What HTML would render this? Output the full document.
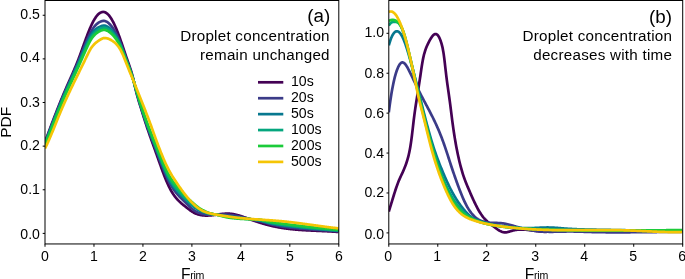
<!DOCTYPE html>
<html lang="en"><head><meta charset="utf-8"><title>PDF of F_rim</title>
<style>html,body{margin:0;padding:0;background:#fff}svg{display:block;will-change:transform}</style></head>
<body>
<svg width="685" height="279" viewBox="0 0 685 279" font-family="'Liberation Sans', sans-serif" fill="#000">
<rect width="685" height="279" fill="#fff"/>
<defs><clipPath id="ca"><rect x="45.0" y="0" width="293.8" height="243.95"/></clipPath><clipPath id="cb"><rect x="388.8" y="0" width="293.90000000000003" height="243.95"/></clipPath></defs>
<g clip-path="url(#ca)" fill="none" stroke-width="2.7" stroke-linejoin="round" stroke-linecap="butt">
<path stroke="#440154" d="M45,142.09 L45.5,140.74 L46,139.39 L46.5,138.04 L47,136.69 L47.5,135.35 L48,134.00 L48.5,132.66 L49,131.32 L49.5,129.99 L50,128.65 L50.5,127.32 L51,125.99 L51.5,124.67 L52,123.35 L52.5,122.03 L53,120.71 L53.5,119.40 L54,118.10 L54.5,116.79 L55,115.50 L55.5,114.20 L56,112.91 L56.5,111.63 L57,110.35 L57.5,109.08 L58,107.81 L58.5,106.55 L59,105.29 L59.5,104.04 L60,102.80 L60.5,101.56 L61,100.33 L61.5,99.11 L62,97.89 L62.5,96.68 L63,95.48 L63.5,94.29 L64,93.10 L64.5,91.92 L65,90.75 L65.5,89.59 L66,88.44 L66.5,87.29 L67,86.15 L67.5,85.02 L68,83.89 L68.5,82.76 L69,81.63 L69.5,80.51 L70,79.38 L70.5,78.26 L71,77.13 L71.5,76.00 L72,74.86 L72.5,73.71 L73,72.56 L73.5,71.40 L74,70.24 L74.5,69.06 L75,67.87 L75.5,66.66 L76,65.45 L76.5,64.21 L77,62.97 L77.5,61.70 L78,60.42 L78.5,59.12 L79,57.80 L79.5,56.46 L80,55.11 L80.5,53.75 L81,52.37 L81.5,50.99 L82,49.61 L82.5,48.22 L83,46.83 L83.5,45.44 L84,44.05 L84.5,42.67 L85,41.30 L85.5,39.93 L86,38.57 L86.5,37.23 L87,35.90 L87.5,34.59 L88,33.30 L88.5,32.03 L89,30.79 L89.5,29.56 L90,28.37 L90.5,27.21 L91,26.07 L91.5,24.98 L92,23.91 L92.5,22.89 L93,21.90 L93.5,20.96 L94,20.06 L94.5,19.20 L95,18.40 L95.5,17.64 L96,16.92 L96.5,16.25 L97,15.63 L97.5,15.06 L98,14.54 L98.5,14.06 L99,13.63 L99.5,13.25 L100,12.92 L100.5,12.63 L101,12.40 L101.5,12.21 L102,12.08 L102.5,11.99 L103,11.95 L103.5,11.97 L104,12.03 L104.5,12.14 L105,12.31 L105.5,12.52 L106,12.79 L106.5,13.11 L107,13.48 L107.5,13.90 L108,14.37 L108.5,14.90 L109,15.47 L109.5,16.09 L110,16.76 L110.5,17.48 L111,18.24 L111.5,19.05 L112,19.90 L112.5,20.79 L113,21.72 L113.5,22.70 L114,23.71 L114.5,24.76 L115,25.84 L115.5,26.96 L116,28.12 L116.5,29.31 L117,30.53 L117.5,31.78 L118,33.07 L118.5,34.38 L119,35.72 L119.5,37.08 L120,38.48 L120.5,39.89 L121,41.33 L121.5,42.79 L122,44.27 L122.5,45.75 L123,47.25 L123.5,48.75 L124,50.25 L124.5,51.74 L125,53.23 L125.5,54.71 L126,56.17 L126.5,57.61 L127,59.03 L127.5,60.44 L128,61.84 L128.5,63.25 L129,64.67 L129.5,66.12 L130,67.61 L130.5,69.15 L131,70.75 L131.5,72.42 L132,74.17 L132.5,76.01 L133,77.95 L133.5,80.01 L134,82.18 L134.5,84.43 L135,86.68 L135.5,88.88 L136,90.97 L136.5,92.96 L137,94.86 L137.5,96.68 L138,98.44 L138.5,100.14 L139,101.80 L139.5,103.42 L140,105.03 L140.5,106.62 L141,108.21 L141.5,109.80 L142,111.41 L142.5,113.02 L143,114.63 L143.5,116.24 L144,117.85 L144.5,119.44 L145,121.03 L145.5,122.61 L146,124.16 L146.5,125.70 L147,127.21 L147.5,128.71 L148,130.19 L148.5,131.66 L149,133.11 L149.5,134.54 L150,135.97 L150.5,137.38 L151,138.79 L151.5,140.19 L152,141.58 L152.5,142.97 L153,144.36 L153.5,145.74 L154,147.13 L154.5,148.51 L155,149.90 L155.5,151.30 L156,152.69 L156.5,154.10 L157,155.51 L157.5,156.93 L158,158.34 L158.5,159.76 L159,161.18 L159.5,162.59 L160,164.00 L160.5,165.40 L161,166.80 L161.5,168.18 L162,169.56 L162.5,170.92 L163,172.26 L163.5,173.60 L164,174.91 L164.5,176.20 L165,177.47 L165.5,178.72 L166,179.95 L166.5,181.15 L167,182.32 L167.5,183.46 L168,184.57 L168.5,185.65 L169,186.69 L169.5,187.70 L170,188.67 L170.5,189.60 L171,190.50 L171.5,191.37 L172,192.20 L172.5,193.00 L173,193.78 L173.5,194.52 L174,195.24 L174.5,195.93 L175,196.59 L175.5,197.23 L176,197.85 L176.5,198.44 L177,199.02 L177.5,199.57 L178,200.11 L178.5,200.63 L179,201.13 L179.5,201.62 L180,202.09 L180.5,202.55 L181,203.00 L181.5,203.43 L182,203.86 L182.5,204.28 L183,204.69 L183.5,205.10 L184,205.50 L184.5,205.90 L185,206.29 L185.5,206.69 L186,207.08 L186.5,207.47 L187,207.87 L187.5,208.26 L188,208.65 L188.5,209.04 L189,209.42 L189.5,209.80 L190,210.17 L190.5,210.53 L191,210.88 L191.5,211.22 L192,211.55 L192.5,211.87 L193,212.16 L193.5,212.45 L194,212.72 L194.5,212.97 L195,213.21 L195.5,213.44 L196,213.65 L196.5,213.85 L197,214.04 L197.5,214.21 L198,214.38 L198.5,214.53 L199,214.67 L199.5,214.79 L200,214.91 L200.5,215.02 L201,215.11 L201.5,215.20 L202,215.27 L202.5,215.34 L203,215.40 L203.5,215.45 L204,215.49 L204.5,215.52 L205,215.54 L205.5,215.56 L206,215.57 L206.5,215.57 L207,215.57 L207.5,215.56 L208,215.54 L208.5,215.52 L209,215.49 L209.5,215.46 L210,215.43 L210.5,215.38 L211,215.34 L211.5,215.29 L212,215.24 L212.5,215.18 L213,215.13 L213.5,215.06 L214,215.00 L214.5,214.94 L215,214.87 L215.5,214.80 L216,214.74 L216.5,214.67 L217,214.60 L217.5,214.53 L218,214.46 L218.5,214.39 L219,214.32 L219.5,214.26 L220,214.19 L220.5,214.13 L221,214.07 L221.5,214.01 L222,213.96 L222.5,213.91 L223,213.86 L223.5,213.81 L224,213.77 L224.5,213.74 L225,213.71 L225.5,213.68 L226,213.66 L226.5,213.64 L227,213.64 L227.5,213.63 L228,213.64 L228.5,213.65 L229,213.67 L229.5,213.69 L230,213.72 L230.5,213.77 L231,213.82 L231.5,213.87 L232,213.94 L232.5,214.01 L233,214.09 L233.5,214.18 L234,214.27 L234.5,214.37 L235,214.47 L235.5,214.59 L236,214.70 L236.5,214.83 L237,214.95 L237.5,215.09 L238,215.22 L238.5,215.37 L239,215.51 L239.5,215.66 L240,215.82 L240.5,215.97 L241,216.13 L241.5,216.30 L242,216.47 L242.5,216.63 L243,216.81 L243.5,216.98 L244,217.16 L244.5,217.33 L245,217.51 L245.5,217.69 L246,217.87 L246.5,218.05 L247,218.23 L247.5,218.42 L248,218.60 L248.5,218.78 L249,218.96 L249.5,219.14 L250,219.32 L250.5,219.50 L251,219.68 L251.5,219.85 L252,220.03 L252.5,220.21 L253,220.38 L253.5,220.55 L254,220.73 L254.5,220.90 L255,221.07 L255.5,221.24 L256,221.41 L256.5,221.57 L257,221.74 L257.5,221.90 L258,222.07 L258.5,222.23 L259,222.39 L259.5,222.55 L260,222.71 L260.5,222.86 L261,223.02 L261.5,223.17 L262,223.32 L262.5,223.47 L263,223.62 L263.5,223.77 L264,223.92 L264.5,224.06 L265,224.20 L265.5,224.34 L266,224.48 L266.5,224.62 L267,224.75 L267.5,224.89 L268,225.02 L268.5,225.15 L269,225.28 L269.5,225.40 L270,225.53 L270.5,225.65 L271,225.77 L271.5,225.89 L272,226.00 L272.5,226.11 L273,226.23 L273.5,226.34 L274,226.44 L274.5,226.55 L275,226.65 L275.5,226.75 L276,226.85 L276.5,226.95 L277,227.05 L277.5,227.14 L278,227.24 L278.5,227.33 L279,227.42 L279.5,227.50 L280,227.59 L280.5,227.68 L281,227.76 L281.5,227.84 L282,227.92 L282.5,228.00 L283,228.07 L283.5,228.15 L284,228.22 L284.5,228.29 L285,228.36 L285.5,228.43 L286,228.50 L286.5,228.57 L287,228.63 L287.5,228.69 L288,228.76 L288.5,228.82 L289,228.88 L289.5,228.93 L290,228.99 L290.5,229.05 L291,229.10 L291.5,229.15 L292,229.21 L292.5,229.26 L293,229.31 L293.5,229.36 L294,229.40 L294.5,229.45 L295,229.50 L295.5,229.54 L296,229.58 L296.5,229.63 L297,229.67 L297.5,229.71 L298,229.75 L298.5,229.79 L299,229.83 L299.5,229.86 L300,229.90 L300.5,229.94 L301,229.97 L301.5,230.01 L302,230.04 L302.5,230.07 L303,230.10 L303.5,230.13 L304,230.17 L304.5,230.20 L305,230.23 L305.5,230.25 L306,230.28 L306.5,230.31 L307,230.34 L307.5,230.36 L308,230.39 L308.5,230.42 L309,230.44 L309.5,230.47 L310,230.49 L310.5,230.52 L311,230.54 L311.5,230.56 L312,230.59 L312.5,230.61 L313,230.63 L313.5,230.66 L314,230.68 L314.5,230.70 L315,230.72 L315.5,230.75 L316,230.77 L316.5,230.79 L317,230.81 L317.5,230.83 L318,230.85 L318.5,230.88 L319,230.90 L319.5,230.92 L320,230.94 L320.5,230.96 L321,230.98 L321.5,231.01 L322,231.03 L322.5,231.05 L323,231.07 L323.5,231.10 L324,231.12 L324.5,231.14 L325,231.16 L325.5,231.19 L326,231.21 L326.5,231.24 L327,231.26 L327.5,231.29 L328,231.31 L328.5,231.34 L329,231.36 L329.5,231.39 L330,231.42 L330.5,231.45 L331,231.47 L331.5,231.50 L332,231.53 L332.5,231.56 L333,231.59 L333.5,231.62 L334,231.66 L334.5,231.69 L335,231.72 L335.5,231.76 L336,231.79 L336.5,231.83 L337,231.86 L337.5,231.90 L338,231.94 L338.5,231.98"/>
<path stroke="#3b3b88" d="M45,142.72 L45.5,141.41 L46,140.09 L46.5,138.77 L47,137.46 L47.5,136.14 L48,134.82 L48.5,133.50 L49,132.19 L49.5,130.87 L50,129.55 L50.5,128.24 L51,126.93 L51.5,125.62 L52,124.31 L52.5,123.00 L53,121.70 L53.5,120.40 L54,119.10 L54.5,117.81 L55,116.52 L55.5,115.23 L56,113.95 L56.5,112.68 L57,111.41 L57.5,110.14 L58,108.88 L58.5,107.63 L59,106.38 L59.5,105.14 L60,103.90 L60.5,102.67 L61,101.45 L61.5,100.24 L62,99.03 L62.5,97.83 L63,96.64 L63.5,95.46 L64,94.28 L64.5,93.12 L65,91.96 L65.5,90.81 L66,89.67 L66.5,88.53 L67,87.41 L67.5,86.29 L68,85.17 L68.5,84.05 L69,82.94 L69.5,81.83 L70,80.72 L70.5,79.61 L71,78.50 L71.5,77.39 L72,76.27 L72.5,75.15 L73,74.03 L73.5,72.90 L74,71.77 L74.5,70.64 L75,69.50 L75.5,68.35 L76,67.20 L76.5,66.03 L77,64.86 L77.5,63.67 L78,62.47 L78.5,61.26 L79,60.04 L79.5,58.81 L80,57.57 L80.5,56.32 L81,55.07 L81.5,53.81 L82,52.56 L82.5,51.30 L83,50.04 L83.5,48.78 L84,47.53 L84.5,46.28 L85,45.04 L85.5,43.81 L86,42.59 L86.5,41.39 L87,40.21 L87.5,39.05 L88,37.91 L88.5,36.79 L89,35.71 L89.5,34.66 L90,33.64 L90.5,32.67 L91,31.74 L91.5,30.85 L92,30.00 L92.5,29.19 L93,28.43 L93.5,27.71 L94,27.03 L94.5,26.40 L95,25.81 L95.5,25.26 L96,24.75 L96.5,24.27 L97,23.84 L97.5,23.43 L98,23.06 L98.5,22.72 L99,22.40 L99.5,22.12 L100,21.86 L100.5,21.62 L101,21.42 L101.5,21.24 L102,21.10 L102.5,20.99 L103,20.91 L103.5,20.88 L104,20.89 L104.5,20.95 L105,21.05 L105.5,21.20 L106,21.39 L106.5,21.63 L107,21.91 L107.5,22.23 L108,22.59 L108.5,23.00 L109,23.44 L109.5,23.93 L110,24.45 L110.5,25.00 L111,25.60 L111.5,26.22 L112,26.88 L112.5,27.57 L113,28.29 L113.5,29.05 L114,29.84 L114.5,30.66 L115,31.52 L115.5,32.41 L116,33.34 L116.5,34.30 L117,35.29 L117.5,36.31 L118,37.38 L118.5,38.47 L119,39.60 L119.5,40.76 L120,41.96 L120.5,43.19 L121,44.46 L121.5,45.76 L122,47.08 L122.5,48.44 L123,49.81 L123.5,51.19 L124,52.59 L124.5,53.99 L125,55.40 L125.5,56.80 L126,58.19 L126.5,59.56 L127,60.92 L127.5,62.27 L128,63.62 L128.5,64.97 L129,66.33 L129.5,67.71 L130,69.11 L130.5,70.55 L131,72.03 L131.5,73.56 L132,75.14 L132.5,76.79 L133,78.52 L133.5,80.32 L134,82.22 L134.5,84.16 L135,86.13 L135.5,88.08 L136,89.98 L136.5,91.85 L137,93.67 L137.5,95.46 L138,97.22 L138.5,98.96 L139,100.66 L139.5,102.35 L140,104.01 L140.5,105.66 L141,107.29 L141.5,108.90 L142,110.49 L142.5,112.06 L143,113.63 L143.5,115.19 L144,116.74 L144.5,118.27 L145,119.79 L145.5,121.30 L146,122.78 L146.5,124.24 L147,125.68 L147.5,127.10 L148,128.50 L148.5,129.89 L149,131.27 L149.5,132.64 L150,134.00 L150.5,135.36 L151,136.70 L151.5,138.03 L152,139.36 L152.5,140.69 L153,142.01 L153.5,143.32 L154,144.63 L154.5,145.95 L155,147.26 L155.5,148.58 L156,149.89 L156.5,151.22 L157,152.54 L157.5,153.87 L158,155.20 L158.5,156.54 L159,157.87 L159.5,159.20 L160,160.53 L160.5,161.85 L161,163.16 L161.5,164.47 L162,165.76 L162.5,167.04 L163,168.31 L163.5,169.56 L164,170.79 L164.5,172.01 L165,173.20 L165.5,174.37 L166,175.52 L166.5,176.65 L167,177.74 L167.5,178.82 L168,179.86 L168.5,180.87 L169,181.85 L169.5,182.80 L170,183.71 L170.5,184.59 L171,185.44 L171.5,186.26 L172,187.05 L172.5,187.82 L173,188.56 L173.5,189.27 L174,189.97 L174.5,190.64 L175,191.29 L175.5,191.92 L176,192.54 L176.5,193.15 L177,193.74 L177.5,194.31 L178,194.88 L178.5,195.43 L179,195.98 L179.5,196.51 L180,197.04 L180.5,197.56 L181,198.07 L181.5,198.58 L182,199.08 L182.5,199.58 L183,200.08 L183.5,200.57 L184,201.05 L184.5,201.54 L185,202.03 L185.5,202.51 L186,203.01 L186.5,203.50 L187,204.01 L187.5,204.51 L188,205.01 L188.5,205.51 L189,206.00 L189.5,206.49 L190,206.97 L190.5,207.44 L191,207.89 L191.5,208.33 L192,208.76 L192.5,209.16 L193,209.55 L193.5,209.92 L194,210.26 L194.5,210.59 L195,210.90 L195.5,211.19 L196,211.47 L196.5,211.73 L197,211.98 L197.5,212.22 L198,212.45 L198.5,212.66 L199,212.86 L199.5,213.05 L200,213.23 L200.5,213.39 L201,213.55 L201.5,213.69 L202,213.82 L202.5,213.95 L203,214.06 L203.5,214.17 L204,214.26 L204.5,214.35 L205,214.43 L205.5,214.49 L206,214.54 L206.5,214.57 L207,214.60 L207.5,214.61 L208,214.62 L208.5,214.62 L209,214.62 L209.5,214.62 L210,214.61 L210.5,214.61 L211,214.60 L211.5,214.60 L212,214.60 L212.5,214.60 L213,214.61 L213.5,214.61 L214,214.62 L214.5,214.63 L215,214.64 L215.5,214.65 L216,214.65 L216.5,214.65 L217,214.65 L217.5,214.65 L218,214.64 L218.5,214.64 L219,214.63 L219.5,214.62 L220,214.62 L220.5,214.61 L221,214.60 L221.5,214.60 L222,214.59 L222.5,214.59 L223,214.59 L223.5,214.59 L224,214.60 L224.5,214.61 L225,214.62 L225.5,214.63 L226,214.65 L226.5,214.67 L227,214.70 L227.5,214.73 L228,214.77 L228.5,214.82 L229,214.86 L229.5,214.91 L230,214.97 L230.5,215.02 L231,215.09 L231.5,215.15 L232,215.22 L232.5,215.29 L233,215.37 L233.5,215.45 L234,215.53 L234.5,215.62 L235,215.70 L235.5,215.79 L236,215.89 L236.5,215.98 L237,216.08 L237.5,216.18 L238,216.28 L238.5,216.39 L239,216.49 L239.5,216.60 L240,216.71 L240.5,216.82 L241,216.93 L241.5,217.05 L242,217.17 L242.5,217.29 L243,217.41 L243.5,217.54 L244,217.66 L244.5,217.78 L245,217.91 L245.5,218.03 L246,218.16 L246.5,218.28 L247,218.41 L247.5,218.53 L248,218.65 L248.5,218.77 L249,218.88 L249.5,219.00 L250,219.11 L250.5,219.22 L251,219.32 L251.5,219.43 L252,219.54 L252.5,219.64 L253,219.75 L253.5,219.86 L254,219.96 L254.5,220.06 L255,220.17 L255.5,220.27 L256,220.37 L256.5,220.47 L257,220.57 L257.5,220.67 L258,220.77 L258.5,220.87 L259,220.97 L259.5,221.08 L260,221.19 L260.5,221.31 L261,221.43 L261.5,221.56 L262,221.69 L262.5,221.82 L263,221.95 L263.5,222.09 L264,222.24 L264.5,222.38 L265,222.53 L265.5,222.68 L266,222.83 L266.5,222.97 L267,223.12 L267.5,223.27 L268,223.42 L268.5,223.56 L269,223.70 L269.5,223.83 L270,223.96 L270.5,224.08 L271,224.20 L271.5,224.33 L272,224.45 L272.5,224.57 L273,224.70 L273.5,224.82 L274,224.94 L274.5,225.06 L275,225.17 L275.5,225.29 L276,225.40 L276.5,225.52 L277,225.63 L277.5,225.73 L278,225.84 L278.5,225.94 L279,226.04 L279.5,226.14 L280,226.24 L280.5,226.33 L281,226.42 L281.5,226.50 L282,226.58 L282.5,226.66 L283,226.73 L283.5,226.80 L284,226.87 L284.5,226.93 L285,227.00 L285.5,227.07 L286,227.13 L286.5,227.19 L287,227.26 L287.5,227.32 L288,227.38 L288.5,227.44 L289,227.50 L289.5,227.55 L290,227.61 L290.5,227.67 L291,227.72 L291.5,227.78 L292,227.83 L292.5,227.88 L293,227.93 L293.5,227.99 L294,228.04 L294.5,228.09 L295,228.13 L295.5,228.18 L296,228.23 L296.5,228.28 L297,228.32 L297.5,228.37 L298,228.41 L298.5,228.46 L299,228.50 L299.5,228.54 L300,228.58 L300.5,228.63 L301,228.67 L301.5,228.71 L302,228.75 L302.5,228.79 L303,228.83 L303.5,228.87 L304,228.90 L304.5,228.94 L305,228.98 L305.5,229.01 L306,229.05 L306.5,229.09 L307,229.12 L307.5,229.16 L308,229.19 L308.5,229.23 L309,229.26 L309.5,229.30 L310,229.33 L310.5,229.36 L311,229.40 L311.5,229.43 L312,229.46 L312.5,229.49 L313,229.53 L313.5,229.56 L314,229.59 L314.5,229.62 L315,229.65 L315.5,229.68 L316,229.72 L316.5,229.75 L317,229.78 L317.5,229.81 L318,229.84 L318.5,229.87 L319,229.90 L319.5,229.93 L320,229.96 L320.5,229.99 L321,230.03 L321.5,230.06 L322,230.09 L322.5,230.12 L323,230.15 L323.5,230.18 L324,230.21 L324.5,230.24 L325,230.28 L325.5,230.31 L326,230.34 L326.5,230.37 L327,230.41 L327.5,230.44 L328,230.47 L328.5,230.51 L329,230.54 L329.5,230.57 L330,230.61 L330.5,230.64 L331,230.68 L331.5,230.71 L332,230.75 L332.5,230.78 L333,230.82 L333.5,230.86 L334,230.89 L334.5,230.93 L335,230.97 L335.5,231.01 L336,231.05 L336.5,231.09 L337,231.13 L337.5,231.17 L338,231.21 L338.5,231.25"/>
<path stroke="#07788f" d="M45,143.36 L45.5,142.08 L46,140.80 L46.5,139.51 L47,138.22 L47.5,136.93 L48,135.64 L48.5,134.34 L49,133.04 L49.5,131.75 L50,130.45 L50.5,129.15 L51,127.85 L51.5,126.55 L52,125.26 L52.5,123.96 L53,122.67 L53.5,121.37 L54,120.08 L54.5,118.80 L55,117.51 L55.5,116.23 L56,114.96 L56.5,113.69 L57,112.42 L57.5,111.16 L58,109.90 L58.5,108.65 L59,107.40 L59.5,106.17 L60,104.94 L60.5,103.71 L61,102.50 L61.5,101.29 L62,100.09 L62.5,98.89 L63,97.71 L63.5,96.53 L64,95.36 L64.5,94.20 L65,93.05 L65.5,91.90 L66,90.77 L66.5,89.64 L67,88.51 L67.5,87.40 L68,86.29 L68.5,85.18 L69,84.07 L69.5,82.97 L70,81.87 L70.5,80.76 L71,79.66 L71.5,78.55 L72,77.45 L72.5,76.34 L73,75.23 L73.5,74.12 L74,73.02 L74.5,71.91 L75,70.79 L75.5,69.67 L76,68.55 L76.5,67.42 L77,66.29 L77.5,65.15 L78,64.00 L78.5,62.84 L79,61.67 L79.5,60.50 L80,59.32 L80.5,58.13 L81,56.95 L81.5,55.76 L82,54.57 L82.5,53.38 L83,52.19 L83.5,51.01 L84,49.83 L84.5,48.65 L85,47.47 L85.5,46.31 L86,45.16 L86.5,44.03 L87,42.92 L87.5,41.82 L88,40.75 L88.5,39.71 L89,38.70 L89.5,37.73 L90,36.79 L90.5,35.91 L91,35.07 L91.5,34.27 L92,33.52 L92.5,32.82 L93,32.16 L93.5,31.54 L94,30.96 L94.5,30.43 L95,29.93 L95.5,29.48 L96,29.05 L96.5,28.66 L97,28.30 L97.5,27.97 L98,27.66 L98.5,27.38 L99,27.11 L99.5,26.86 L100,26.62 L100.5,26.41 L101,26.21 L101.5,26.03 L102,25.88 L102.5,25.75 L103,25.66 L103.5,25.60 L104,25.58 L104.5,25.61 L105,25.68 L105.5,25.79 L106,25.94 L106.5,26.13 L107,26.36 L107.5,26.62 L108,26.93 L108.5,27.27 L109,27.64 L109.5,28.05 L110,28.49 L110.5,28.96 L111,29.46 L111.5,29.98 L112,30.54 L112.5,31.12 L113,31.73 L113.5,32.37 L114,33.04 L114.5,33.74 L115,34.48 L115.5,35.25 L116,36.05 L116.5,36.88 L117,37.75 L117.5,38.66 L118,39.60 L118.5,40.58 L119,41.60 L119.5,42.66 L120,43.75 L120.5,44.89 L121,46.06 L121.5,47.28 L122,48.53 L122.5,49.81 L123,51.12 L123.5,52.45 L124,53.79 L124.5,55.14 L125,56.50 L125.5,57.86 L126,59.21 L126.5,60.55 L127,61.88 L127.5,63.20 L128,64.52 L128.5,65.84 L129,67.17 L129.5,68.51 L130,69.87 L130.5,71.26 L131,72.68 L131.5,74.13 L132,75.64 L132.5,77.19 L133,78.80 L133.5,80.48 L134,82.23 L134.5,84.03 L135,85.85 L135.5,87.67 L136,89.46 L136.5,91.24 L137,93.00 L137.5,94.74 L138,96.46 L138.5,98.17 L139,99.85 L139.5,101.52 L140,103.18 L140.5,104.81 L141,106.42 L141.5,108.01 L142,109.57 L142.5,111.11 L143,112.65 L143.5,114.17 L144,115.69 L144.5,117.19 L145,118.68 L145.5,120.16 L146,121.61 L146.5,123.05 L147,124.47 L147.5,125.87 L148,127.25 L148.5,128.63 L149,129.99 L149.5,131.34 L150,132.69 L150.5,134.03 L151,135.35 L151.5,136.66 L152,137.96 L152.5,139.25 L153,140.53 L153.5,141.81 L154,143.08 L154.5,144.35 L155,145.61 L155.5,146.88 L156,148.15 L156.5,149.43 L157,150.70 L157.5,151.98 L158,153.27 L158.5,154.56 L159,155.85 L159.5,157.14 L160,158.44 L160.5,159.74 L161,161.03 L161.5,162.32 L162,163.59 L162.5,164.85 L163,166.10 L163.5,167.33 L164,168.54 L164.5,169.74 L165,170.92 L165.5,172.07 L166,173.20 L166.5,174.31 L167,175.39 L167.5,176.45 L168,177.47 L168.5,178.46 L169,179.42 L169.5,180.34 L170,181.23 L170.5,182.09 L171,182.91 L171.5,183.71 L172,184.47 L172.5,185.21 L173,185.93 L173.5,186.62 L174,187.29 L174.5,187.94 L175,188.57 L175.5,189.19 L176,189.79 L176.5,190.37 L177,190.95 L177.5,191.51 L178,192.07 L178.5,192.61 L179,193.15 L179.5,193.68 L180,194.20 L180.5,194.71 L181,195.22 L181.5,195.73 L182,196.23 L182.5,196.73 L183,197.22 L183.5,197.72 L184,198.21 L184.5,198.69 L185,199.18 L185.5,199.66 L186,200.14 L186.5,200.62 L187,201.09 L187.5,201.56 L188,202.02 L188.5,202.48 L189,202.93 L189.5,203.38 L190,203.82 L190.5,204.26 L191,204.69 L191.5,205.11 L192,205.52 L192.5,205.92 L193,206.32 L193.5,206.71 L194,207.08 L194.5,207.45 L195,207.81 L195.5,208.16 L196,208.50 L196.5,208.83 L197,209.15 L197.5,209.46 L198,209.76 L198.5,210.04 L199,210.32 L199.5,210.58 L200,210.83 L200.5,211.07 L201,211.29 L201.5,211.51 L202,211.72 L202.5,211.91 L203,212.10 L203.5,212.27 L204,212.44 L204.5,212.60 L205,212.75 L205.5,212.89 L206,213.02 L206.5,213.14 L207,213.26 L207.5,213.37 L208,213.47 L208.5,213.57 L209,213.67 L209.5,213.75 L210,213.84 L210.5,213.92 L211,213.99 L211.5,214.07 L212,214.13 L212.5,214.20 L213,214.27 L213.5,214.33 L214,214.39 L214.5,214.45 L215,214.50 L215.5,214.56 L216,214.62 L216.5,214.67 L217,214.73 L217.5,214.80 L218,214.86 L218.5,214.92 L219,214.99 L219.5,215.06 L220,215.13 L220.5,215.20 L221,215.27 L221.5,215.34 L222,215.41 L222.5,215.48 L223,215.55 L223.5,215.62 L224,215.69 L224.5,215.76 L225,215.83 L225.5,215.90 L226,215.96 L226.5,216.03 L227,216.09 L227.5,216.15 L228,216.21 L228.5,216.27 L229,216.33 L229.5,216.39 L230,216.45 L230.5,216.50 L231,216.56 L231.5,216.62 L232,216.68 L232.5,216.74 L233,216.81 L233.5,216.87 L234,216.93 L234.5,216.99 L235,217.05 L235.5,217.11 L236,217.18 L236.5,217.24 L237,217.30 L237.5,217.37 L238,217.43 L238.5,217.50 L239,217.56 L239.5,217.63 L240,217.70 L240.5,217.76 L241,217.83 L241.5,217.89 L242,217.95 L242.5,218.02 L243,218.08 L243.5,218.14 L244,218.20 L244.5,218.26 L245,218.32 L245.5,218.39 L246,218.45 L246.5,218.52 L247,218.58 L247.5,218.65 L248,218.72 L248.5,218.79 L249,218.86 L249.5,218.93 L250,219.01 L250.5,219.08 L251,219.16 L251.5,219.24 L252,219.31 L252.5,219.39 L253,219.47 L253.5,219.55 L254,219.62 L254.5,219.70 L255,219.78 L255.5,219.86 L256,219.94 L256.5,220.02 L257,220.09 L257.5,220.17 L258,220.25 L258.5,220.33 L259,220.42 L259.5,220.51 L260,220.61 L260.5,220.72 L261,220.83 L261.5,220.94 L262,221.06 L262.5,221.19 L263,221.32 L263.5,221.45 L264,221.58 L264.5,221.72 L265,221.86 L265.5,222.01 L266,222.15 L266.5,222.29 L267,222.43 L267.5,222.57 L268,222.70 L268.5,222.83 L269,222.95 L269.5,223.07 L270,223.17 L270.5,223.27 L271,223.37 L271.5,223.47 L272,223.56 L272.5,223.66 L273,223.75 L273.5,223.85 L274,223.94 L274.5,224.03 L275,224.12 L275.5,224.21 L276,224.29 L276.5,224.38 L277,224.46 L277.5,224.55 L278,224.63 L278.5,224.71 L279,224.79 L279.5,224.87 L280,224.94 L280.5,225.02 L281,225.10 L281.5,225.17 L282,225.24 L282.5,225.31 L283,225.38 L283.5,225.45 L284,225.52 L284.5,225.59 L285,225.66 L285.5,225.73 L286,225.79 L286.5,225.86 L287,225.93 L287.5,225.99 L288,226.06 L288.5,226.12 L289,226.18 L289.5,226.25 L290,226.31 L290.5,226.37 L291,226.43 L291.5,226.49 L292,226.55 L292.5,226.61 L293,226.67 L293.5,226.73 L294,226.78 L294.5,226.84 L295,226.90 L295.5,226.95 L296,227.01 L296.5,227.06 L297,227.12 L297.5,227.17 L298,227.22 L298.5,227.28 L299,227.33 L299.5,227.38 L300,227.43 L300.5,227.48 L301,227.53 L301.5,227.58 L302,227.63 L302.5,227.68 L303,227.73 L303.5,227.78 L304,227.83 L304.5,227.87 L305,227.92 L305.5,227.97 L306,228.02 L306.5,228.06 L307,228.11 L307.5,228.15 L308,228.20 L308.5,228.24 L309,228.29 L309.5,228.33 L310,228.37 L310.5,228.42 L311,228.46 L311.5,228.50 L312,228.55 L312.5,228.59 L313,228.63 L313.5,228.67 L314,228.71 L314.5,228.76 L315,228.80 L315.5,228.84 L316,228.88 L316.5,228.92 L317,228.96 L317.5,229.00 L318,229.04 L318.5,229.08 L319,229.12 L319.5,229.16 L320,229.20 L320.5,229.24 L321,229.28 L321.5,229.32 L322,229.36 L322.5,229.40 L323,229.44 L323.5,229.48 L324,229.52 L324.5,229.56 L325,229.60 L325.5,229.63 L326,229.67 L326.5,229.71 L327,229.75 L327.5,229.79 L328,229.83 L328.5,229.87 L329,229.91 L329.5,229.95 L330,229.99 L330.5,230.03 L331,230.07 L331.5,230.11 L332,230.16 L332.5,230.20 L333,230.24 L333.5,230.28 L334,230.32 L334.5,230.36 L335,230.40 L335.5,230.45 L336,230.49 L336.5,230.53 L337,230.58 L337.5,230.62 L338,230.66 L338.5,230.71"/>
<path stroke="#05a67e" d="M45,143.99 L45.5,142.75 L46,141.50 L46.5,140.25 L47,138.98 L47.5,137.72 L48,136.45 L48.5,135.18 L49,133.90 L49.5,132.62 L50,131.34 L50.5,130.06 L51,128.78 L51.5,127.49 L52,126.21 L52.5,124.93 L53,123.64 L53.5,122.36 L54,121.08 L54.5,119.80 L55,118.53 L55.5,117.25 L56,115.98 L56.5,114.72 L57,113.46 L57.5,112.20 L58,110.95 L58.5,109.70 L59,108.47 L59.5,107.23 L60,106.01 L60.5,104.79 L61,103.58 L61.5,102.38 L62,101.19 L62.5,100.00 L63,98.83 L63.5,97.66 L64,96.50 L64.5,95.34 L65,94.20 L65.5,93.06 L66,91.93 L66.5,90.81 L67,89.70 L67.5,88.59 L68,87.49 L68.5,86.39 L69,85.29 L69.5,84.20 L70,83.11 L70.5,82.02 L71,80.93 L71.5,79.84 L72,78.74 L72.5,77.65 L73,76.56 L73.5,75.47 L74,74.38 L74.5,73.29 L75,72.19 L75.5,71.10 L76,70.00 L76.5,68.90 L77,67.79 L77.5,66.68 L78,65.56 L78.5,64.43 L79,63.30 L79.5,62.16 L80,61.01 L80.5,59.87 L81,58.72 L81.5,57.57 L82,56.42 L82.5,55.27 L83,54.12 L83.5,52.97 L84,51.82 L84.5,50.68 L85,49.53 L85.5,48.40 L86,47.28 L86.5,46.17 L87,45.07 L87.5,43.99 L88,42.93 L88.5,41.90 L89,40.90 L89.5,39.93 L90,39.01 L90.5,38.13 L91,37.30 L91.5,36.52 L92,35.78 L92.5,35.08 L93,34.43 L93.5,33.82 L94,33.25 L94.5,32.72 L95,32.22 L95.5,31.77 L96,31.34 L96.5,30.95 L97,30.58 L97.5,30.24 L98,29.92 L98.5,29.62 L99,29.34 L99.5,29.08 L100,28.83 L100.5,28.59 L101,28.37 L101.5,28.18 L102,28.01 L102.5,27.87 L103,27.76 L103.5,27.70 L104,27.67 L104.5,27.69 L105,27.75 L105.5,27.85 L106,27.99 L106.5,28.17 L107,28.38 L107.5,28.64 L108,28.92 L108.5,29.25 L109,29.60 L109.5,29.99 L110,30.41 L110.5,30.85 L111,31.32 L111.5,31.82 L112,32.34 L112.5,32.88 L113,33.46 L113.5,34.06 L114,34.68 L114.5,35.34 L115,36.03 L115.5,36.75 L116,37.50 L116.5,38.29 L117,39.11 L117.5,39.96 L118,40.86 L118.5,41.79 L119,42.75 L119.5,43.76 L120,44.81 L120.5,45.90 L121,47.03 L121.5,48.19 L122,49.40 L122.5,50.64 L123,51.90 L123.5,53.19 L124,54.50 L124.5,55.82 L125,57.14 L125.5,58.47 L126,59.79 L126.5,61.10 L127,62.40 L127.5,63.69 L128,64.98 L128.5,66.28 L129,67.58 L129.5,68.89 L130,70.22 L130.5,71.57 L131,72.95 L131.5,74.37 L132,75.83 L132.5,77.34 L133,78.91 L133.5,80.54 L134,82.24 L134.5,83.99 L135,85.76 L135.5,87.54 L136,89.30 L136.5,91.04 L137,92.77 L137.5,94.48 L138,96.18 L138.5,97.86 L139,99.53 L139.5,101.17 L140,102.80 L140.5,104.41 L141,106.00 L141.5,107.57 L142,109.12 L142.5,110.63 L143,112.15 L143.5,113.65 L144,115.14 L144.5,116.62 L145,118.08 L145.5,119.52 L146,120.94 L146.5,122.34 L147,123.73 L147.5,125.10 L148,126.45 L148.5,127.79 L149,129.12 L149.5,130.45 L150,131.77 L150.5,133.08 L151,134.38 L151.5,135.67 L152,136.94 L152.5,138.21 L153,139.47 L153.5,140.72 L154,141.97 L154.5,143.21 L155,144.46 L155.5,145.70 L156,146.94 L156.5,148.19 L157,149.44 L157.5,150.70 L158,151.96 L158.5,153.22 L159,154.49 L159.5,155.77 L160,157.05 L160.5,158.34 L161,159.61 L161.5,160.88 L162,162.14 L162.5,163.38 L163,164.61 L163.5,165.83 L164,167.03 L164.5,168.21 L165,169.37 L165.5,170.51 L166,171.63 L166.5,172.73 L167,173.80 L167.5,174.84 L168,175.85 L168.5,176.83 L169,177.78 L169.5,178.70 L170,179.58 L170.5,180.43 L171,181.25 L171.5,182.05 L172,182.82 L172.5,183.57 L173,184.29 L173.5,184.99 L174,185.67 L174.5,186.34 L175,186.98 L175.5,187.62 L176,188.23 L176.5,188.84 L177,189.44 L177.5,190.02 L178,190.60 L178.5,191.17 L179,191.72 L179.5,192.28 L180,192.82 L180.5,193.36 L181,193.89 L181.5,194.42 L182,194.95 L182.5,195.46 L183,195.98 L183.5,196.49 L184,196.99 L184.5,197.50 L185,197.99 L185.5,198.49 L186,198.97 L186.5,199.45 L187,199.91 L187.5,200.38 L188,200.83 L188.5,201.28 L189,201.72 L189.5,202.16 L190,202.60 L190.5,203.02 L191,203.44 L191.5,203.86 L192,204.27 L192.5,204.68 L193,205.09 L193.5,205.48 L194,205.88 L194.5,206.27 L195,206.66 L195.5,207.04 L196,207.40 L196.5,207.76 L197,208.11 L197.5,208.44 L198,208.76 L198.5,209.08 L199,209.38 L199.5,209.67 L200,209.94 L200.5,210.21 L201,210.47 L201.5,210.72 L202,210.95 L202.5,211.18 L203,211.40 L203.5,211.61 L204,211.81 L204.5,212.00 L205,212.19 L205.5,212.36 L206,212.53 L206.5,212.69 L207,212.84 L207.5,212.98 L208,213.12 L208.5,213.25 L209,213.37 L209.5,213.49 L210,213.60 L210.5,213.70 L211,213.80 L211.5,213.89 L212,213.98 L212.5,214.07 L213,214.15 L213.5,214.23 L214,214.31 L214.5,214.38 L215,214.46 L215.5,214.53 L216,214.60 L216.5,214.68 L217,214.77 L217.5,214.85 L218,214.94 L218.5,215.04 L219,215.13 L219.5,215.23 L220,215.33 L220.5,215.43 L221,215.53 L221.5,215.63 L222,215.74 L222.5,215.84 L223,215.94 L223.5,216.04 L224,216.13 L224.5,216.23 L225,216.32 L225.5,216.41 L226,216.50 L226.5,216.58 L227,216.66 L227.5,216.73 L228,216.80 L228.5,216.86 L229,216.93 L229.5,216.99 L230,217.05 L230.5,217.12 L231,217.18 L231.5,217.24 L232,217.30 L232.5,217.36 L233,217.42 L233.5,217.48 L234,217.54 L234.5,217.59 L235,217.65 L235.5,217.71 L236,217.77 L236.5,217.82 L237,217.88 L237.5,217.94 L238,217.99 L238.5,218.05 L239,218.10 L239.5,218.16 L240,218.21 L240.5,218.27 L241,218.32 L241.5,218.37 L242,218.42 L242.5,218.47 L243,218.52 L243.5,218.57 L244,218.61 L244.5,218.66 L245,218.70 L245.5,218.75 L246,218.79 L246.5,218.84 L247,218.88 L247.5,218.93 L248,218.97 L248.5,219.02 L249,219.07 L249.5,219.12 L250,219.16 L250.5,219.21 L251,219.26 L251.5,219.31 L252,219.35 L252.5,219.40 L253,219.45 L253.5,219.50 L254,219.54 L254.5,219.59 L255,219.64 L255.5,219.70 L256,219.75 L256.5,219.81 L257,219.87 L257.5,219.93 L258,219.99 L258.5,220.06 L259,220.14 L259.5,220.22 L260,220.30 L260.5,220.39 L261,220.49 L261.5,220.59 L262,220.70 L262.5,220.81 L263,220.92 L263.5,221.04 L264,221.17 L264.5,221.30 L265,221.42 L265.5,221.55 L266,221.69 L266.5,221.82 L267,221.95 L267.5,222.08 L268,222.20 L268.5,222.32 L269,222.44 L269.5,222.55 L270,222.65 L270.5,222.74 L271,222.84 L271.5,222.94 L272,223.03 L272.5,223.12 L273,223.22 L273.5,223.31 L274,223.40 L274.5,223.49 L275,223.58 L275.5,223.67 L276,223.75 L276.5,223.84 L277,223.92 L277.5,224.01 L278,224.09 L278.5,224.17 L279,224.25 L279.5,224.33 L280,224.41 L280.5,224.48 L281,224.56 L281.5,224.63 L282,224.71 L282.5,224.78 L283,224.85 L283.5,224.92 L284,224.98 L284.5,225.05 L285,225.12 L285.5,225.19 L286,225.25 L286.5,225.32 L287,225.39 L287.5,225.45 L288,225.52 L288.5,225.58 L289,225.65 L289.5,225.71 L290,225.77 L290.5,225.84 L291,225.90 L291.5,225.96 L292,226.02 L292.5,226.08 L293,226.14 L293.5,226.20 L294,226.26 L294.5,226.32 L295,226.38 L295.5,226.44 L296,226.50 L296.5,226.55 L297,226.61 L297.5,226.67 L298,226.72 L298.5,226.78 L299,226.83 L299.5,226.89 L300,226.94 L300.5,227.00 L301,227.05 L301.5,227.10 L302,227.16 L302.5,227.21 L303,227.26 L303.5,227.31 L304,227.36 L304.5,227.41 L305,227.47 L305.5,227.52 L306,227.57 L306.5,227.62 L307,227.66 L307.5,227.71 L308,227.76 L308.5,227.81 L309,227.86 L309.5,227.91 L310,227.95 L310.5,228.00 L311,228.05 L311.5,228.09 L312,228.14 L312.5,228.19 L313,228.23 L313.5,228.28 L314,228.32 L314.5,228.37 L315,228.41 L315.5,228.46 L316,228.50 L316.5,228.55 L317,228.59 L317.5,228.64 L318,228.68 L318.5,228.72 L319,228.77 L319.5,228.81 L320,228.85 L320.5,228.90 L321,228.94 L321.5,228.98 L322,229.03 L322.5,229.07 L323,229.11 L323.5,229.15 L324,229.20 L324.5,229.24 L325,229.28 L325.5,229.33 L326,229.37 L326.5,229.41 L327,229.45 L327.5,229.50 L328,229.54 L328.5,229.58 L329,229.62 L329.5,229.67 L330,229.71 L330.5,229.75 L331,229.79 L331.5,229.84 L332,229.88 L332.5,229.92 L333,229.97 L333.5,230.01 L334,230.05 L334.5,230.10 L335,230.14 L335.5,230.19 L336,230.23 L336.5,230.27 L337,230.32 L337.5,230.36 L338,230.41 L338.5,230.45"/>
<path stroke="#1ccb3a" d="M45,144.95 L45.5,143.76 L46,142.56 L46.5,141.35 L47,140.13 L47.5,138.91 L48,137.68 L48.5,136.44 L49,135.20 L49.5,133.95 L50,132.70 L50.5,131.44 L51,130.18 L51.5,128.92 L52,127.66 L52.5,126.39 L53,125.12 L53.5,123.86 L54,122.59 L54.5,121.33 L55,120.07 L55.5,118.81 L56,117.55 L56.5,116.29 L57,115.04 L57.5,113.80 L58,112.56 L58.5,111.32 L59,110.10 L59.5,108.87 L60,107.66 L60.5,106.46 L61,105.26 L61.5,104.07 L62,102.89 L62.5,101.72 L63,100.56 L63.5,99.40 L64,98.26 L64.5,97.12 L65,95.99 L65.5,94.86 L66,93.75 L66.5,92.64 L67,91.54 L67.5,90.45 L68,89.36 L68.5,88.27 L69,87.19 L69.5,86.11 L70,85.04 L70.5,83.96 L71,82.89 L71.5,81.82 L72,80.74 L72.5,79.67 L73,78.60 L73.5,77.52 L74,76.44 L74.5,75.36 L75,74.28 L75.5,73.20 L76,72.11 L76.5,71.01 L77,69.91 L77.5,68.81 L78,67.69 L78.5,66.58 L79,65.45 L79.5,64.32 L80,63.18 L80.5,62.04 L81,60.90 L81.5,59.76 L82,58.62 L82.5,57.47 L83,56.33 L83.5,55.19 L84,54.05 L84.5,52.91 L85,51.78 L85.5,50.65 L86,49.54 L86.5,48.43 L87,47.34 L87.5,46.26 L88,45.19 L88.5,44.15 L89,43.14 L89.5,42.17 L90,41.24 L90.5,40.37 L91,39.54 L91.5,38.75 L92,38.01 L92.5,37.32 L93,36.67 L93.5,36.06 L94,35.49 L94.5,34.96 L95,34.47 L95.5,34.02 L96,33.59 L96.5,33.20 L97,32.83 L97.5,32.49 L98,32.17 L98.5,31.86 L99,31.58 L99.5,31.31 L100,31.06 L100.5,30.82 L101,30.60 L101.5,30.41 L102,30.24 L102.5,30.10 L103,30.00 L103.5,29.94 L104,29.93 L104.5,29.95 L105,30.01 L105.5,30.11 L106,30.25 L106.5,30.43 L107,30.64 L107.5,30.88 L108,31.16 L108.5,31.46 L109,31.80 L109.5,32.16 L110,32.55 L110.5,32.96 L111,33.40 L111.5,33.86 L112,34.33 L112.5,34.83 L113,35.35 L113.5,35.90 L114,36.47 L114.5,37.07 L115,37.70 L115.5,38.36 L116,39.05 L116.5,39.77 L117,40.53 L117.5,41.32 L118,42.15 L118.5,43.02 L119,43.93 L119.5,44.87 L120,45.87 L120.5,46.90 L121,47.97 L121.5,49.09 L122,50.26 L122.5,51.46 L123,52.69 L123.5,53.94 L124,55.22 L124.5,56.51 L125,57.81 L125.5,59.11 L126,60.41 L126.5,61.70 L127,62.99 L127.5,64.27 L128,65.54 L128.5,66.82 L129,68.10 L129.5,69.39 L130,70.69 L130.5,72.02 L131,73.36 L131.5,74.74 L132,76.15 L132.5,77.60 L133,79.09 L133.5,80.64 L134,82.25 L134.5,83.89 L135,85.57 L135.5,87.25 L136,88.93 L136.5,90.60 L137,92.26 L137.5,93.91 L138,95.56 L138.5,97.19 L139,98.82 L139.5,100.43 L140,102.02 L140.5,103.60 L141,105.15 L141.5,106.69 L142,108.20 L142.5,109.68 L143,111.16 L143.5,112.63 L144,114.08 L144.5,115.53 L145,116.96 L145.5,118.37 L146,119.77 L146.5,121.15 L147,122.51 L147.5,123.86 L148,125.19 L148.5,126.52 L149,127.83 L149.5,129.15 L150,130.46 L150.5,131.76 L151,133.05 L151.5,134.33 L152,135.60 L152.5,136.87 L153,138.12 L153.5,139.36 L154,140.60 L154.5,141.83 L155,143.06 L155.5,144.29 L156,145.52 L156.5,146.74 L157,147.97 L157.5,149.20 L158,150.43 L158.5,151.67 L159,152.90 L159.5,154.14 L160,155.39 L160.5,156.63 L161,157.86 L161.5,159.09 L162,160.30 L162.5,161.51 L163,162.70 L163.5,163.87 L164,165.03 L164.5,166.17 L165,167.29 L165.5,168.39 L166,169.47 L166.5,170.52 L167,171.55 L167.5,172.55 L168,173.52 L168.5,174.46 L169,175.38 L169.5,176.25 L170,177.10 L170.5,177.92 L171,178.71 L171.5,179.48 L172,180.22 L172.5,180.94 L173,181.64 L173.5,182.33 L174,182.99 L174.5,183.65 L175,184.28 L175.5,184.91 L176,185.52 L176.5,186.13 L177,186.73 L177.5,187.32 L178,187.91 L178.5,188.49 L179,189.06 L179.5,189.63 L180,190.20 L180.5,190.76 L181,191.31 L181.5,191.86 L182,192.41 L182.5,192.96 L183,193.50 L183.5,194.03 L184,194.57 L184.5,195.10 L185,195.62 L185.5,196.14 L186,196.64 L186.5,197.14 L187,197.62 L187.5,198.10 L188,198.56 L188.5,199.02 L189,199.48 L189.5,199.92 L190,200.37 L190.5,200.81 L191,201.25 L191.5,201.69 L192,202.12 L192.5,202.55 L193,202.99 L193.5,203.42 L194,203.86 L194.5,204.29 L195,204.73 L195.5,205.16 L196,205.58 L196.5,205.99 L197,206.39 L197.5,206.77 L198,207.15 L198.5,207.51 L199,207.87 L199.5,208.21 L200,208.54 L200.5,208.85 L201,209.16 L201.5,209.46 L202,209.74 L202.5,210.02 L203,210.28 L203.5,210.54 L204,210.79 L204.5,211.03 L205,211.26 L205.5,211.48 L206,211.70 L206.5,211.92 L207,212.13 L207.5,212.34 L208,212.53 L208.5,212.72 L209,212.90 L209.5,213.08 L210,213.24 L210.5,213.39 L211,213.54 L211.5,213.67 L212,213.80 L212.5,213.92 L213,214.03 L213.5,214.13 L214,214.23 L214.5,214.32 L215,214.41 L215.5,214.50 L216,214.60 L216.5,214.70 L217,214.81 L217.5,214.92 L218,215.04 L218.5,215.17 L219,215.30 L219.5,215.43 L220,215.57 L220.5,215.71 L221,215.84 L221.5,215.98 L222,216.12 L222.5,216.26 L223,216.40 L223.5,216.53 L224,216.66 L224.5,216.79 L225,216.91 L225.5,217.03 L226,217.14 L226.5,217.25 L227,217.34 L227.5,217.43 L228,217.51 L228.5,217.58 L229,217.65 L229.5,217.72 L230,217.79 L230.5,217.86 L231,217.92 L231.5,217.98 L232,218.04 L232.5,218.10 L233,218.16 L233.5,218.21 L234,218.26 L234.5,218.32 L235,218.37 L235.5,218.42 L236,218.46 L236.5,218.51 L237,218.55 L237.5,218.60 L238,218.64 L238.5,218.68 L239,218.72 L239.5,218.76 L240,218.80 L240.5,218.84 L241,218.87 L241.5,218.90 L242,218.93 L242.5,218.96 L243,218.98 L243.5,219.00 L244,219.02 L244.5,219.03 L245,219.05 L245.5,219.06 L246,219.08 L246.5,219.09 L247,219.11 L247.5,219.12 L248,219.13 L248.5,219.15 L249,219.16 L249.5,219.18 L250,219.19 L250.5,219.21 L251,219.23 L251.5,219.24 L252,219.25 L252.5,219.26 L253,219.28 L253.5,219.29 L254,219.30 L254.5,219.31 L255,219.33 L255.5,219.35 L256,219.37 L256.5,219.39 L257,219.41 L257.5,219.44 L258,219.47 L258.5,219.51 L259,219.56 L259.5,219.61 L260,219.67 L260.5,219.74 L261,219.82 L261.5,219.90 L262,220.00 L262.5,220.10 L263,220.21 L263.5,220.32 L264,220.44 L264.5,220.56 L265,220.69 L265.5,220.81 L266,220.94 L266.5,221.07 L267,221.20 L267.5,221.33 L268,221.45 L268.5,221.57 L269,221.67 L269.5,221.77 L270,221.86 L270.5,221.94 L271,222.03 L271.5,222.11 L272,222.19 L272.5,222.27 L273,222.34 L273.5,222.42 L274,222.50 L274.5,222.58 L275,222.65 L275.5,222.73 L276,222.80 L276.5,222.88 L277,222.95 L277.5,223.02 L278,223.09 L278.5,223.16 L279,223.23 L279.5,223.30 L280,223.37 L280.5,223.44 L281,223.51 L281.5,223.57 L282,223.64 L282.5,223.71 L283,223.77 L283.5,223.84 L284,223.90 L284.5,223.97 L285,224.03 L285.5,224.09 L286,224.16 L286.5,224.22 L287,224.29 L287.5,224.35 L288,224.41 L288.5,224.48 L289,224.54 L289.5,224.60 L290,224.67 L290.5,224.73 L291,224.79 L291.5,224.85 L292,224.92 L292.5,224.98 L293,225.04 L293.5,225.10 L294,225.16 L294.5,225.23 L295,225.29 L295.5,225.35 L296,225.41 L296.5,225.47 L297,225.53 L297.5,225.59 L298,225.65 L298.5,225.71 L299,225.77 L299.5,225.83 L300,225.89 L300.5,225.94 L301,226.00 L301.5,226.06 L302,226.12 L302.5,226.18 L303,226.24 L303.5,226.29 L304,226.35 L304.5,226.41 L305,226.46 L305.5,226.52 L306,226.58 L306.5,226.63 L307,226.69 L307.5,226.74 L308,226.80 L308.5,226.86 L309,226.91 L309.5,226.96 L310,227.02 L310.5,227.07 L311,227.13 L311.5,227.18 L312,227.24 L312.5,227.29 L313,227.34 L313.5,227.40 L314,227.45 L314.5,227.50 L315,227.55 L315.5,227.61 L316,227.66 L316.5,227.71 L317,227.76 L317.5,227.81 L318,227.87 L318.5,227.92 L319,227.97 L319.5,228.02 L320,228.07 L320.5,228.12 L321,228.17 L321.5,228.22 L322,228.27 L322.5,228.32 L323,228.37 L323.5,228.42 L324,228.47 L324.5,228.52 L325,228.57 L325.5,228.62 L326,228.67 L326.5,228.72 L327,228.77 L327.5,228.82 L328,228.87 L328.5,228.91 L329,228.96 L329.5,229.01 L330,229.06 L330.5,229.11 L331,229.16 L331.5,229.20 L332,229.25 L332.5,229.30 L333,229.35 L333.5,229.40 L334,229.44 L334.5,229.49 L335,229.54 L335.5,229.59 L336,229.63 L336.5,229.68 L337,229.73 L337.5,229.78 L338,229.82 L338.5,229.87"/>
<path stroke="#f5c505" d="M45,148.45 L45.5,147.45 L46,146.43 L46.5,145.39 L47,144.33 L47.5,143.25 L48,142.15 L48.5,141.03 L49,139.90 L49.5,138.75 L50,137.59 L50.5,136.41 L51,135.23 L51.5,134.03 L52,132.82 L52.5,131.61 L53,130.39 L53.5,129.16 L54,127.93 L54.5,126.69 L55,125.45 L55.5,124.21 L56,122.97 L56.5,121.73 L57,120.50 L57.5,119.26 L58,118.03 L58.5,116.81 L59,115.59 L59.5,114.37 L60,113.17 L60.5,111.98 L61,110.80 L61.5,109.62 L62,108.46 L62.5,107.30 L63,106.15 L63.5,105.01 L64,103.88 L64.5,102.75 L65,101.64 L65.5,100.53 L66,99.42 L66.5,98.33 L67,97.24 L67.5,96.15 L68,95.08 L68.5,94.00 L69,92.94 L69.5,91.87 L70,90.82 L70.5,89.76 L71,88.71 L71.5,87.67 L72,86.63 L72.5,85.59 L73,84.56 L73.5,83.52 L74,82.49 L74.5,81.47 L75,80.44 L75.5,79.42 L76,78.40 L76.5,77.38 L77,76.36 L77.5,75.34 L78,74.33 L78.5,73.31 L79,72.29 L79.5,71.27 L80,70.26 L80.5,69.24 L81,68.22 L81.5,67.20 L82,66.18 L82.5,65.15 L83,64.13 L83.5,63.10 L84,62.08 L84.5,61.05 L85,60.02 L85.5,58.98 L86,57.95 L86.5,56.91 L87,55.87 L87.5,54.83 L88,53.80 L88.5,52.78 L89,51.80 L89.5,50.85 L90,49.96 L90.5,49.12 L91,48.33 L91.5,47.59 L92,46.89 L92.5,46.24 L93,45.62 L93.5,45.05 L94,44.51 L94.5,44.00 L95,43.52 L95.5,43.07 L96,42.64 L96.5,42.24 L97,41.85 L97.5,41.49 L98,41.13 L98.5,40.79 L99,40.45 L99.5,40.13 L100,39.80 L100.5,39.49 L101,39.19 L101.5,38.92 L102,38.68 L102.5,38.47 L103,38.31 L103.5,38.18 L104,38.10 L104.5,38.05 L105,38.04 L105.5,38.06 L106,38.12 L106.5,38.21 L107,38.32 L107.5,38.46 L108,38.63 L108.5,38.82 L109,39.03 L109.5,39.25 L110,39.50 L110.5,39.76 L111,40.04 L111.5,40.33 L112,40.63 L112.5,40.95 L113,41.28 L113.5,41.63 L114,42.00 L114.5,42.40 L115,42.82 L115.5,43.27 L116,43.76 L116.5,44.27 L117,44.83 L117.5,45.42 L118,46.05 L118.5,46.72 L119,47.44 L119.5,48.21 L120,49.03 L120.5,49.90 L121,50.83 L121.5,51.81 L122,52.85 L122.5,53.94 L123,55.08 L123.5,56.25 L124,57.45 L124.5,58.67 L125,59.91 L125.5,61.16 L126,62.42 L126.5,63.67 L127,64.92 L127.5,66.17 L128,67.42 L128.5,68.67 L129,69.91 L129.5,71.15 L130,72.39 L130.5,73.63 L131,74.87 L131.5,76.11 L132,77.34 L132.5,78.58 L133,79.81 L133.5,81.05 L134,82.29 L134.5,83.52 L135,84.76 L135.5,86.00 L136,87.24 L136.5,88.48 L137,89.72 L137.5,90.96 L138,92.21 L138.5,93.45 L139,94.70 L139.5,95.95 L140,97.20 L140.5,98.46 L141,99.71 L141.5,100.97 L142,102.23 L142.5,103.49 L143,104.76 L143.5,106.02 L144,107.29 L144.5,108.56 L145,109.83 L145.5,111.11 L146,112.38 L146.5,113.66 L147,114.95 L147.5,116.24 L148,117.55 L148.5,118.86 L149,120.18 L149.5,121.51 L150,122.85 L150.5,124.21 L151,125.58 L151.5,126.97 L152,128.37 L152.5,129.78 L153,131.18 L153.5,132.59 L154,133.99 L154.5,135.38 L155,136.77 L155.5,138.15 L156,139.52 L156.5,140.88 L157,142.23 L157.5,143.57 L158,144.90 L158.5,146.22 L159,147.53 L159.5,148.83 L160,150.11 L160.5,151.38 L161,152.63 L161.5,153.87 L162,155.10 L162.5,156.30 L163,157.50 L163.5,158.67 L164,159.83 L164.5,160.97 L165,162.09 L165.5,163.19 L166,164.27 L166.5,165.33 L167,166.37 L167.5,167.39 L168,168.39 L168.5,169.36 L169,170.31 L169.5,171.24 L170,172.14 L170.5,173.03 L171,173.90 L171.5,174.75 L172,175.58 L172.5,176.40 L173,177.20 L173.5,177.99 L174,178.77 L174.5,179.54 L175,180.30 L175.5,181.06 L176,181.81 L176.5,182.55 L177,183.29 L177.5,184.03 L178,184.76 L178.5,185.49 L179,186.21 L179.5,186.93 L180,187.64 L180.5,188.35 L181,189.05 L181.5,189.75 L182,190.44 L182.5,191.12 L183,191.80 L183.5,192.47 L184,193.13 L184.5,193.79 L185,194.44 L185.5,195.08 L186,195.71 L186.5,196.34 L187,196.96 L187.5,197.56 L188,198.16 L188.5,198.75 L189,199.34 L189.5,199.91 L190,200.47 L190.5,201.02 L191,201.56 L191.5,202.09 L192,202.61 L192.5,203.12 L193,203.62 L193.5,204.11 L194,204.58 L194.5,205.05 L195,205.50 L195.5,205.94 L196,206.36 L196.5,206.78 L197,207.18 L197.5,207.57 L198,207.94 L198.5,208.30 L199,208.64 L199.5,208.98 L200,209.30 L200.5,209.60 L201,209.89 L201.5,210.17 L202,210.44 L202.5,210.70 L203,210.94 L203.5,211.18 L204,211.40 L204.5,211.61 L205,211.81 L205.5,212.01 L206,212.19 L206.5,212.37 L207,212.54 L207.5,212.70 L208,212.85 L208.5,213.00 L209,213.13 L209.5,213.27 L210,213.39 L210.5,213.51 L211,213.63 L211.5,213.74 L212,213.85 L212.5,213.95 L213,214.05 L213.5,214.14 L214,214.23 L214.5,214.32 L215,214.41 L215.5,214.50 L216,214.58 L216.5,214.66 L217,214.74 L217.5,214.83 L218,214.91 L218.5,214.99 L219,215.07 L219.5,215.16 L220,215.24 L220.5,215.32 L221,215.40 L221.5,215.48 L222,215.57 L222.5,215.65 L223,215.73 L223.5,215.81 L224,215.89 L224.5,215.97 L225,216.05 L225.5,216.13 L226,216.20 L226.5,216.28 L227,216.36 L227.5,216.43 L228,216.51 L228.5,216.58 L229,216.66 L229.5,216.73 L230,216.80 L230.5,216.87 L231,216.94 L231.5,217.00 L232,217.07 L232.5,217.14 L233,217.20 L233.5,217.26 L234,217.33 L234.5,217.39 L235,217.45 L235.5,217.51 L236,217.57 L236.5,217.62 L237,217.68 L237.5,217.74 L238,217.79 L238.5,217.85 L239,217.90 L239.5,217.95 L240,218.00 L240.5,218.05 L241,218.10 L241.5,218.15 L242,218.20 L242.5,218.25 L243,218.30 L243.5,218.34 L244,218.39 L244.5,218.43 L245,218.48 L245.5,218.52 L246,218.57 L246.5,218.61 L247,218.65 L247.5,218.69 L248,218.73 L248.5,218.77 L249,218.81 L249.5,218.85 L250,218.89 L250.5,218.93 L251,218.97 L251.5,219.01 L252,219.05 L252.5,219.08 L253,219.12 L253.5,219.16 L254,219.19 L254.5,219.23 L255,219.26 L255.5,219.30 L256,219.34 L256.5,219.37 L257,219.41 L257.5,219.44 L258,219.47 L258.5,219.51 L259,219.54 L259.5,219.58 L260,219.61 L260.5,219.64 L261,219.68 L261.5,219.71 L262,219.74 L262.5,219.78 L263,219.81 L263.5,219.85 L264,219.88 L264.5,219.91 L265,219.95 L265.5,219.98 L266,220.01 L266.5,220.05 L267,220.08 L267.5,220.12 L268,220.15 L268.5,220.19 L269,220.22 L269.5,220.26 L270,220.29 L270.5,220.33 L271,220.36 L271.5,220.40 L272,220.44 L272.5,220.47 L273,220.51 L273.5,220.55 L274,220.58 L274.5,220.62 L275,220.66 L275.5,220.70 L276,220.74 L276.5,220.78 L277,220.82 L277.5,220.86 L278,220.90 L278.5,220.95 L279,220.99 L279.5,221.03 L280,221.08 L280.5,221.12 L281,221.17 L281.5,221.21 L282,221.26 L282.5,221.30 L283,221.35 L283.5,221.40 L284,221.45 L284.5,221.50 L285,221.55 L285.5,221.60 L286,221.65 L286.5,221.71 L287,221.76 L287.5,221.81 L288,221.87 L288.5,221.92 L289,221.98 L289.5,222.03 L290,222.09 L290.5,222.15 L291,222.21 L291.5,222.26 L292,222.32 L292.5,222.38 L293,222.44 L293.5,222.50 L294,222.56 L294.5,222.62 L295,222.68 L295.5,222.75 L296,222.81 L296.5,222.87 L297,222.94 L297.5,223.00 L298,223.06 L298.5,223.13 L299,223.19 L299.5,223.26 L300,223.32 L300.5,223.39 L301,223.45 L301.5,223.52 L302,223.59 L302.5,223.65 L303,223.72 L303.5,223.79 L304,223.85 L304.5,223.92 L305,223.99 L305.5,224.06 L306,224.13 L306.5,224.19 L307,224.26 L307.5,224.33 L308,224.40 L308.5,224.47 L309,224.54 L309.5,224.61 L310,224.68 L310.5,224.74 L311,224.81 L311.5,224.88 L312,224.95 L312.5,225.02 L313,225.09 L313.5,225.16 L314,225.23 L314.5,225.30 L315,225.37 L315.5,225.44 L316,225.51 L316.5,225.58 L317,225.64 L317.5,225.71 L318,225.78 L318.5,225.85 L319,225.92 L319.5,225.99 L320,226.05 L320.5,226.12 L321,226.19 L321.5,226.26 L322,226.33 L322.5,226.39 L323,226.46 L323.5,226.53 L324,226.59 L324.5,226.66 L325,226.72 L325.5,226.79 L326,226.85 L326.5,226.92 L327,226.98 L327.5,227.05 L328,227.11 L328.5,227.17 L329,227.24 L329.5,227.30 L330,227.36 L330.5,227.42 L331,227.49 L331.5,227.55 L332,227.61 L332.5,227.67 L333,227.73 L333.5,227.79 L334,227.84 L334.5,227.90 L335,227.96 L335.5,228.02 L336,228.07 L336.5,228.13 L337,228.18 L337.5,228.24 L338,228.29 L338.5,228.35"/>
</g>
<g clip-path="url(#cb)" fill="none" stroke-width="2.7" stroke-linejoin="round" stroke-linecap="butt">
<path stroke="#440154" d="M388.8,211.49 L389.3,209.92 L389.8,208.32 L390.3,206.70 L390.8,205.07 L391.3,203.43 L391.8,201.79 L392.3,200.14 L392.8,198.50 L393.3,196.87 L393.8,195.25 L394.3,193.65 L394.8,192.07 L395.3,190.52 L395.8,189.01 L396.3,187.53 L396.8,186.09 L397.3,184.69 L397.8,183.35 L398.3,182.06 L398.8,180.83 L399.3,179.64 L399.8,178.50 L400.3,177.39 L400.8,176.29 L401.3,175.22 L401.8,174.14 L402.3,173.07 L402.8,171.97 L403.3,170.86 L403.8,169.72 L404.3,168.54 L404.8,167.31 L405.3,166.02 L405.8,164.67 L406.3,163.25 L406.8,161.74 L407.3,160.14 L407.8,158.42 L408.3,156.55 L408.8,154.50 L409.3,152.24 L409.8,149.72 L410.3,146.91 L410.8,143.79 L411.3,140.32 L411.8,136.47 L412.3,132.34 L412.8,128.05 L413.3,123.73 L413.8,119.53 L414.3,115.56 L414.8,111.85 L415.3,108.35 L415.8,105.01 L416.3,101.79 L416.8,98.63 L417.3,95.49 L417.8,92.36 L418.3,89.22 L418.8,86.05 L419.3,82.83 L419.8,79.54 L420.3,76.18 L420.8,72.75 L421.3,69.35 L421.8,66.06 L422.3,62.96 L422.8,60.12 L423.3,57.63 L423.8,55.44 L424.3,53.51 L424.8,51.80 L425.3,50.26 L425.8,48.84 L426.3,47.53 L426.8,46.31 L427.3,45.17 L427.8,44.09 L428.3,43.07 L428.8,42.08 L429.3,41.12 L429.8,40.20 L430.3,39.31 L430.8,38.46 L431.3,37.67 L431.8,36.93 L432.3,36.27 L432.8,35.67 L433.3,35.15 L433.8,34.73 L434.3,34.40 L434.8,34.16 L435.3,34.04 L435.8,34.04 L436.3,34.16 L436.8,34.40 L437.3,34.77 L437.8,35.28 L438.3,35.92 L438.8,36.71 L439.3,37.63 L439.8,38.71 L440.3,39.94 L440.8,41.32 L441.3,42.86 L441.8,44.59 L442.3,46.57 L442.8,48.90 L443.3,51.64 L443.8,54.88 L444.3,58.67 L444.8,62.88 L445.3,67.30 L445.8,71.72 L446.3,75.92 L446.8,79.86 L447.3,83.59 L447.8,87.17 L448.3,90.68 L448.8,94.16 L449.3,97.69 L449.8,101.32 L450.3,105.11 L450.8,109.09 L451.3,113.15 L451.8,117.18 L452.3,121.08 L452.8,124.80 L453.3,128.36 L453.8,131.75 L454.3,135.00 L454.8,138.10 L455.3,141.07 L455.8,143.92 L456.3,146.64 L456.8,149.26 L457.3,151.78 L457.8,154.20 L458.3,156.53 L458.8,158.77 L459.3,160.93 L459.8,163.00 L460.3,164.99 L460.8,166.90 L461.3,168.73 L461.8,170.49 L462.3,172.18 L462.8,173.80 L463.3,175.35 L463.8,176.84 L464.3,178.26 L464.8,179.64 L465.3,180.97 L465.8,182.26 L466.3,183.52 L466.8,184.75 L467.3,185.95 L467.8,187.14 L468.3,188.31 L468.8,189.48 L469.3,190.65 L469.8,191.81 L470.3,192.97 L470.8,194.12 L471.3,195.26 L471.8,196.39 L472.3,197.51 L472.8,198.62 L473.3,199.72 L473.8,200.80 L474.3,201.87 L474.8,202.92 L475.3,203.95 L475.8,204.97 L476.3,205.96 L476.8,206.94 L477.3,207.89 L477.8,208.82 L478.3,209.73 L478.8,210.61 L479.3,211.46 L479.8,212.28 L480.3,213.08 L480.8,213.85 L481.3,214.59 L481.8,215.29 L482.3,215.97 L482.8,216.62 L483.3,217.25 L483.8,217.85 L484.3,218.42 L484.8,218.98 L485.3,219.51 L485.8,220.03 L486.3,220.52 L486.8,221.00 L487.3,221.46 L487.8,221.91 L488.3,222.35 L488.8,222.77 L489.3,223.19 L489.8,223.59 L490.3,223.99 L490.8,224.38 L491.3,224.76 L491.8,225.14 L492.3,225.52 L492.8,225.89 L493.3,226.27 L493.8,226.65 L494.3,227.02 L494.8,227.40 L495.3,227.78 L495.8,228.16 L496.3,228.53 L496.8,228.90 L497.3,229.25 L497.8,229.60 L498.3,229.93 L498.8,230.25 L499.3,230.55 L499.8,230.83 L500.3,231.09 L500.8,231.34 L501.3,231.55 L501.8,231.75 L502.3,231.92 L502.8,232.07 L503.3,232.19 L503.8,232.29 L504.3,232.35 L504.8,232.39 L505.3,232.39 L505.8,232.37 L506.3,232.32 L506.8,232.24 L507.3,232.15 L507.8,232.04 L508.3,231.91 L508.8,231.77 L509.3,231.62 L509.8,231.47 L510.3,231.31 L510.8,231.15 L511.3,230.99 L511.8,230.84 L512.3,230.69 L512.8,230.56 L513.3,230.44 L513.8,230.32 L514.3,230.21 L514.8,230.11 L515.3,230.02 L515.8,229.94 L516.3,229.87 L516.8,229.80 L517.3,229.75 L517.8,229.70 L518.3,229.65 L518.8,229.62 L519.3,229.59 L519.8,229.56 L520.3,229.55 L520.8,229.53 L521.3,229.53 L521.8,229.53 L522.3,229.54 L522.8,229.55 L523.3,229.56 L523.8,229.59 L524.3,229.61 L524.8,229.64 L525.3,229.68 L525.8,229.71 L526.3,229.75 L526.8,229.80 L527.3,229.85 L527.8,229.90 L528.3,229.95 L528.8,230.01 L529.3,230.07 L529.8,230.13 L530.3,230.19 L530.8,230.26 L531.3,230.32 L531.8,230.39 L532.3,230.46 L532.8,230.53 L533.3,230.60 L533.8,230.67 L534.3,230.74 L534.8,230.81 L535.3,230.88 L535.8,230.95 L536.3,231.02 L536.8,231.08 L537.3,231.15 L537.8,231.21 L538.3,231.28 L538.8,231.34 L539.3,231.40 L539.8,231.46 L540.3,231.51 L540.8,231.56 L541.3,231.61 L541.8,231.66 L542.3,231.70 L542.8,231.74 L543.3,231.77 L543.8,231.80 L544.3,231.83 L544.8,231.85 L545.3,231.87 L545.8,231.88 L546.3,231.89 L546.8,231.89"/>
<path stroke="#3b3b88" d="M388.8,112.43 L389.3,108.44 L389.8,104.66 L390.3,101.09 L390.8,97.73 L391.3,94.55 L391.8,91.57 L392.3,88.76 L392.8,86.13 L393.3,83.66 L393.8,81.36 L394.3,79.21 L394.8,77.20 L395.3,75.34 L395.8,73.61 L396.3,72.00 L396.8,70.52 L397.3,69.16 L397.8,67.93 L398.3,66.82 L398.8,65.83 L399.3,64.97 L399.8,64.23 L400.3,63.62 L400.8,63.13 L401.3,62.77 L401.8,62.53 L402.3,62.42 L402.8,62.44 L403.3,62.58 L403.8,62.84 L404.3,63.21 L404.8,63.68 L405.3,64.25 L405.8,64.90 L406.3,65.62 L406.8,66.41 L407.3,67.27 L407.8,68.17 L408.3,69.11 L408.8,70.08 L409.3,71.07 L409.8,72.09 L410.3,73.10 L410.8,74.13 L411.3,75.15 L411.8,76.19 L412.3,77.22 L412.8,78.26 L413.3,79.30 L413.8,80.34 L414.3,81.38 L414.8,82.42 L415.3,83.45 L415.8,84.49 L416.3,85.52 L416.8,86.56 L417.3,87.58 L417.8,88.60 L418.3,89.62 L418.8,90.63 L419.3,91.63 L419.8,92.63 L420.3,93.62 L420.8,94.59 L421.3,95.56 L421.8,96.53 L422.3,97.49 L422.8,98.44 L423.3,99.39 L423.8,100.33 L424.3,101.27 L424.8,102.21 L425.3,103.15 L425.8,104.08 L426.3,105.02 L426.8,105.95 L427.3,106.89 L427.8,107.83 L428.3,108.77 L428.8,109.72 L429.3,110.67 L429.8,111.63 L430.3,112.59 L430.8,113.56 L431.3,114.53 L431.8,115.52 L432.3,116.51 L432.8,117.51 L433.3,118.52 L433.8,119.55 L434.3,120.59 L434.8,121.63 L435.3,122.70 L435.8,123.77 L436.3,124.87 L436.8,125.97 L437.3,127.10 L437.8,128.24 L438.3,129.40 L438.8,130.58 L439.3,131.78 L439.8,133.00 L440.3,134.24 L440.8,135.50 L441.3,136.78 L441.8,138.08 L442.3,139.41 L442.8,140.76 L443.3,142.13 L443.8,143.52 L444.3,144.94 L444.8,146.38 L445.3,147.84 L445.8,149.32 L446.3,150.83 L446.8,152.34 L447.3,153.88 L447.8,155.42 L448.3,156.96 L448.8,158.52 L449.3,160.07 L449.8,161.62 L450.3,163.17 L450.8,164.71 L451.3,166.24 L451.8,167.76 L452.3,169.26 L452.8,170.75 L453.3,172.22 L453.8,173.67 L454.3,175.12 L454.8,176.55 L455.3,177.98 L455.8,179.39 L456.3,180.79 L456.8,182.19 L457.3,183.57 L457.8,184.94 L458.3,186.30 L458.8,187.65 L459.3,188.98 L459.8,190.29 L460.3,191.59 L460.8,192.86 L461.3,194.11 L461.8,195.34 L462.3,196.55 L462.8,197.73 L463.3,198.88 L463.8,200.01 L464.3,201.10 L464.8,202.16 L465.3,203.20 L465.8,204.19 L466.3,205.15 L466.8,206.08 L467.3,206.98 L467.8,207.83 L468.3,208.66 L468.8,209.46 L469.3,210.22 L469.8,210.95 L470.3,211.66 L470.8,212.33 L471.3,212.97 L471.8,213.59 L472.3,214.18 L472.8,214.74 L473.3,215.28 L473.8,215.79 L474.3,216.28 L474.8,216.74 L475.3,217.18 L475.8,217.60 L476.3,218.00 L476.8,218.37 L477.3,218.72 L477.8,219.06 L478.3,219.37 L478.8,219.67 L479.3,219.95 L479.8,220.21 L480.3,220.45 L480.8,220.68 L481.3,220.90 L481.8,221.10 L482.3,221.28 L482.8,221.45 L483.3,221.61 L483.8,221.76 L484.3,221.90 L484.8,222.02 L485.3,222.13 L485.8,222.23 L486.3,222.33 L486.8,222.41 L487.3,222.49 L487.8,222.55 L488.3,222.61 L488.8,222.66 L489.3,222.71 L489.8,222.75 L490.3,222.78 L490.8,222.81 L491.3,222.83 L491.8,222.85 L492.3,222.87 L492.8,222.89 L493.3,222.90 L493.8,222.91 L494.3,222.92 L494.8,222.92 L495.3,222.93 L495.8,222.94 L496.3,222.95 L496.8,222.96 L497.3,222.97 L497.8,222.98 L498.3,223.00 L498.8,223.02 L499.3,223.05 L499.8,223.08 L500.3,223.11 L500.8,223.15 L501.3,223.20 L501.8,223.25 L502.3,223.31 L502.8,223.38 L503.3,223.45 L503.8,223.53 L504.3,223.61 L504.8,223.70 L505.3,223.79 L505.8,223.89 L506.3,224.00 L506.8,224.11 L507.3,224.22 L507.8,224.34 L508.3,224.46 L508.8,224.58 L509.3,224.71 L509.8,224.84 L510.3,224.97 L510.8,225.11 L511.3,225.25 L511.8,225.39 L512.3,225.53 L512.8,225.67 L513.3,225.82 L513.8,225.96 L514.3,226.11 L514.8,226.25 L515.3,226.40 L515.8,226.55 L516.3,226.70 L516.8,226.84 L517.3,226.99 L517.8,227.13 L518.3,227.28 L518.8,227.42 L519.3,227.56 L519.8,227.70 L520.3,227.83 L520.8,227.97 L521.3,228.10 L521.8,228.23 L522.3,228.36 L522.8,228.49 L523.3,228.61 L523.8,228.74 L524.3,228.86 L524.8,228.98 L525.3,229.09 L525.8,229.21 L526.3,229.32 L526.8,229.43 L527.3,229.53 L527.8,229.64 L528.3,229.74 L528.8,229.84 L529.3,229.94 L529.8,230.04 L530.3,230.13 L530.8,230.22 L531.3,230.31 L531.8,230.39 L532.3,230.47 L532.8,230.55 L533.3,230.63 L533.8,230.71 L534.3,230.78 L534.8,230.85 L535.3,230.91 L535.8,230.98 L536.3,231.04 L536.8,231.10 L537.3,231.15 L537.8,231.21 L538.3,231.26 L538.8,231.30 L539.3,231.35 L539.8,231.39 L540.3,231.43 L540.8,231.47 L541.3,231.50 L541.8,231.53 L542.3,231.56 L542.8,231.59 L543.3,231.62 L543.8,231.64 L544.3,231.66 L544.8,231.68 L545.3,231.70 L545.8,231.72 L546.3,231.73 L546.8,231.74 L547.3,231.75 L547.8,231.76 L548.3,231.77 L548.8,231.78 L549.3,231.78 L549.8,231.78 L550.3,231.79 L550.8,231.79 L551.3,231.79 L551.8,231.79 L552.3,231.78 L552.8,231.78 L553.3,231.78 L553.8,231.77 L554.3,231.77 L554.8,231.76 L555.3,231.75 L555.8,231.74 L556.3,231.73 L556.8,231.72 L557.3,231.72 L557.8,231.71 L558.3,231.69 L558.8,231.68 L559.3,231.67 L559.8,231.66 L560.3,231.65 L560.8,231.64 L561.3,231.63 L561.8,231.62 L562.3,231.61 L562.8,231.60 L563.3,231.59 L563.8,231.58 L564.3,231.57 L564.8,231.56 L565.3,231.55 L565.8,231.54 L566.3,231.53 L566.8,231.52 L567.3,231.52 L567.8,231.51 L568.3,231.51 L568.8,231.50 L569.3,231.50 L569.8,231.50 L570.3,231.50 L570.8,231.50 L571.3,231.50 L571.8,231.51 L572.3,231.51 L572.8,231.51 L573.3,231.52 L573.8,231.53 L574.3,231.53 L574.8,231.54 L575.3,231.55 L575.8,231.56 L576.3,231.57 L576.8,231.58 L577.3,231.59 L577.8,231.60 L578.3,231.62 L578.8,231.63 L579.3,231.64 L579.8,231.66 L580.3,231.67 L580.8,231.69 L581.3,231.70 L581.8,231.72 L582.3,231.73 L582.8,231.75 L583.3,231.77 L583.8,231.78 L584.3,231.80 L584.8,231.81 L585.3,231.83 L585.8,231.85 L586.3,231.86 L586.8,231.88 L587.3,231.90 L587.8,231.91 L588.3,231.93 L588.8,231.94 L589.3,231.96 L589.8,231.97 L590.3,231.99 L590.8,232.00 L591.3,232.02 L591.8,232.03 L592.3,232.04 L592.8,232.06 L593.3,232.07 L593.8,232.08 L594.3,232.09 L594.8,232.10 L595.3,232.11 L595.8,232.13 L596.3,232.14 L596.8,232.15 L597.3,232.16 L597.8,232.17 L598.3,232.18 L598.8,232.18 L599.3,232.19 L599.8,232.20 L600.3,232.21 L600.8,232.22 L601.3,232.22 L601.8,232.23 L602.3,232.24 L602.8,232.25 L603.3,232.25 L603.8,232.26 L604.3,232.26 L604.8,232.27 L605.3,232.27 L605.8,232.28 L606.3,232.28 L606.8,232.29 L607.3,232.29 L607.8,232.30 L608.3,232.30 L608.8,232.30 L609.3,232.31 L609.8,232.31 L610.3,232.31 L610.8,232.32 L611.3,232.32 L611.8,232.32 L612.3,232.32 L612.8,232.32 L613.3,232.33 L613.8,232.33 L614.3,232.33 L614.8,232.33 L615.3,232.33 L615.8,232.33 L616.3,232.33 L616.8,232.33 L617.3,232.33 L617.8,232.33 L618.3,232.33 L618.8,232.33 L619.3,232.33 L619.8,232.33 L620.3,232.33 L620.8,232.33 L621.3,232.32 L621.8,232.32 L622.3,232.32 L622.8,232.32 L623.3,232.32 L623.8,232.32 L624.3,232.31 L624.8,232.31 L625.3,232.31 L625.8,232.31 L626.3,232.30 L626.8,232.30 L627.3,232.30 L627.8,232.29 L628.3,232.29 L628.8,232.29 L629.3,232.28 L629.8,232.28 L630.3,232.28 L630.8,232.27 L631.3,232.27 L631.8,232.26 L632.3,232.26 L632.8,232.26 L633.3,232.25 L633.8,232.25 L634.3,232.24 L634.8,232.24 L635.3,232.23 L635.8,232.23 L636.3,232.23 L636.8,232.22 L637.3,232.22 L637.8,232.21 L638.3,232.21 L638.8,232.20 L639.3,232.20 L639.8,232.19 L640.3,232.19 L640.8,232.18 L641.3,232.18 L641.8,232.17 L642.3,232.17 L642.8,232.16 L643.3,232.16 L643.8,232.15 L644.3,232.15 L644.8,232.14 L645.3,232.14 L645.8,232.13 L646.3,232.13 L646.8,232.12 L647.3,232.12 L647.8,232.11 L648.3,232.11 L648.8,232.10 L649.3,232.10 L649.8,232.09 L650.3,232.09 L650.8,232.08 L651.3,232.08 L651.8,232.07 L652.3,232.07 L652.8,232.06 L653.3,232.06 L653.8,232.05 L654.3,232.05 L654.8,232.05 L655.3,232.04 L655.8,232.04 L656.3,232.03 L656.8,232.03 L657.3,232.02 L657.8,232.02 L658.3,232.02 L658.8,232.01 L659.3,232.01 L659.8,232.01 L660.3,232.00 L660.8,232.00 L661.3,232.00 L661.8,231.99 L662.3,231.99 L662.8,231.99 L663.3,231.98 L663.8,231.98 L664.3,231.98 L664.8,231.98 L665.3,231.97 L665.8,231.97 L666.3,231.97 L666.8,231.97 L667.3,231.97 L667.8,231.96 L668.3,231.96 L668.8,231.96 L669.3,231.96 L669.8,231.96 L670.3,231.96 L670.8,231.96 L671.3,231.96 L671.8,231.96 L672.3,231.96 L672.8,231.96 L673.3,231.96 L673.8,231.96 L674.3,231.96 L674.8,231.96 L675.3,231.96 L675.8,231.96 L676.3,231.96 L676.8,231.96 L677.3,231.97 L677.8,231.97 L678.3,231.97 L678.8,231.97 L679.3,231.98 L679.8,231.98 L680.3,231.98 L680.8,231.99 L681.3,231.99 L681.8,231.99 L682.3,232.00"/>
<path stroke="#07788f" d="M388.8,45.34 L389.3,43.60 L389.8,41.98 L390.3,40.48 L390.8,39.10 L391.3,37.83 L391.8,36.68 L392.3,35.65 L392.8,34.72 L393.3,33.91 L393.8,33.21 L394.3,32.62 L394.8,32.13 L395.3,31.75 L395.8,31.48 L396.3,31.30 L396.8,31.23 L397.3,31.26 L397.8,31.39 L398.3,31.62 L398.8,31.94 L399.3,32.35 L399.8,32.86 L400.3,33.46 L400.8,34.15 L401.3,34.93 L401.8,35.79 L402.3,36.73 L402.8,37.74 L403.3,38.83 L403.8,40.00 L404.3,41.23 L404.8,42.53 L405.3,43.89 L405.8,45.31 L406.3,46.79 L406.8,48.32 L407.3,49.90 L407.8,51.52 L408.3,53.19 L408.8,54.89 L409.3,56.62 L409.8,58.38 L410.3,60.17 L410.8,61.97 L411.3,63.80 L411.8,65.64 L412.3,67.50 L412.8,69.37 L413.3,71.26 L413.8,73.16 L414.3,75.08 L414.8,77.01 L415.3,78.95 L415.8,80.89 L416.3,82.85 L416.8,84.81 L417.3,86.78 L417.8,88.76 L418.3,90.74 L418.8,92.72 L419.3,94.71 L419.8,96.69 L420.3,98.68 L420.8,100.67 L421.3,102.65 L421.8,104.63 L422.3,106.61 L422.8,108.58 L423.3,110.54 L423.8,112.50 L424.3,114.45 L424.8,116.39 L425.3,118.31 L425.8,120.22 L426.3,122.12 L426.8,124.00 L427.3,125.87 L427.8,127.72 L428.3,129.55 L428.8,131.36 L429.3,133.15 L429.8,134.92 L430.3,136.66 L430.8,138.38 L431.3,140.07 L431.8,141.74 L432.3,143.37 L432.8,144.98 L433.3,146.55 L433.8,148.10 L434.3,149.61 L434.8,151.10 L435.3,152.55 L435.8,153.98 L436.3,155.39 L436.8,156.77 L437.3,158.13 L437.8,159.47 L438.3,160.79 L438.8,162.09 L439.3,163.37 L439.8,164.65 L440.3,165.90 L440.8,167.15 L441.3,168.38 L441.8,169.61 L442.3,170.82 L442.8,172.02 L443.3,173.20 L443.8,174.38 L444.3,175.55 L444.8,176.70 L445.3,177.84 L445.8,178.97 L446.3,180.08 L446.8,181.19 L447.3,182.28 L447.8,183.35 L448.3,184.42 L448.8,185.46 L449.3,186.50 L449.8,187.51 L450.3,188.51 L450.8,189.49 L451.3,190.46 L451.8,191.40 L452.3,192.33 L452.8,193.24 L453.3,194.13 L453.8,195.01 L454.3,195.87 L454.8,196.71 L455.3,197.54 L455.8,198.35 L456.3,199.15 L456.8,199.93 L457.3,200.70 L457.8,201.45 L458.3,202.19 L458.8,202.92 L459.3,203.63 L459.8,204.33 L460.3,205.02 L460.8,205.69 L461.3,206.35 L461.8,207.01 L462.3,207.65 L462.8,208.28 L463.3,208.89 L463.8,209.50 L464.3,210.10 L464.8,210.69 L465.3,211.27 L465.8,211.84 L466.3,212.39 L466.8,212.93 L467.3,213.46 L467.8,213.97 L468.3,214.47 L468.8,214.95 L469.3,215.41 L469.8,215.85 L470.3,216.27 L470.8,216.68 L471.3,217.05 L471.8,217.41 L472.3,217.75 L472.8,218.06 L473.3,218.36 L473.8,218.64 L474.3,218.91 L474.8,219.16 L475.3,219.39 L475.8,219.61 L476.3,219.83 L476.8,220.03 L477.3,220.22 L477.8,220.40 L478.3,220.58 L478.8,220.75 L479.3,220.91 L479.8,221.08 L480.3,221.24 L480.8,221.40 L481.3,221.55 L481.8,221.71 L482.3,221.86 L482.8,222.01 L483.3,222.16 L483.8,222.31 L484.3,222.45 L484.8,222.59 L485.3,222.73 L485.8,222.87 L486.3,223.01 L486.8,223.14 L487.3,223.28 L487.8,223.41 L488.3,223.54 L488.8,223.66 L489.3,223.79 L489.8,223.91 L490.3,224.03 L490.8,224.15 L491.3,224.27 L491.8,224.39 L492.3,224.50 L492.8,224.61 L493.3,224.72 L493.8,224.83 L494.3,224.94 L494.8,225.04 L495.3,225.15 L495.8,225.25 L496.3,225.35 L496.8,225.44 L497.3,225.54 L497.8,225.63 L498.3,225.72 L498.8,225.81 L499.3,225.90 L499.8,225.99 L500.3,226.07 L500.8,226.16 L501.3,226.24 L501.8,226.32 L502.3,226.40 L502.8,226.47 L503.3,226.55 L503.8,226.62 L504.3,226.69 L504.8,226.76 L505.3,226.82 L505.8,226.89 L506.3,226.95 L506.8,227.02 L507.3,227.08 L507.8,227.14 L508.3,227.19 L508.8,227.25 L509.3,227.30 L509.8,227.35 L510.3,227.40 L510.8,227.45 L511.3,227.50 L511.8,227.55 L512.3,227.59 L512.8,227.63 L513.3,227.67 L513.8,227.71 L514.3,227.75 L514.8,227.78 L515.3,227.82 L515.8,227.85 L516.3,227.88 L516.8,227.91 L517.3,227.94 L517.8,227.96 L518.3,227.99 L518.8,228.01 L519.3,228.03 L519.8,228.05 L520.3,228.07 L520.8,228.09 L521.3,228.10 L521.8,228.12 L522.3,228.13 L522.8,228.14 L523.3,228.15 L523.8,228.16 L524.3,228.16 L524.8,228.17 L525.3,228.17 L525.8,228.17 L526.3,228.17 L526.8,228.17 L527.3,228.17 L527.8,228.16 L528.3,228.16 L528.8,228.15 L529.3,228.14 L529.8,228.13 L530.3,228.12 L530.8,228.11 L531.3,228.09 L531.8,228.08 L532.3,228.06 L532.8,228.04 L533.3,228.02 L533.8,228.00 L534.3,227.98 L534.8,227.95 L535.3,227.93 L535.8,227.91 L536.3,227.88 L536.8,227.86 L537.3,227.83 L537.8,227.80 L538.3,227.78 L538.8,227.75 L539.3,227.73 L539.8,227.70 L540.3,227.68 L540.8,227.65 L541.3,227.63 L541.8,227.61 L542.3,227.59 L542.8,227.57 L543.3,227.55 L543.8,227.53 L544.3,227.52 L544.8,227.51 L545.3,227.49 L545.8,227.48 L546.3,227.48 L546.8,227.47 L547.3,227.47 L547.8,227.47 L548.3,227.47 L548.8,227.48 L549.3,227.49 L549.8,227.50 L550.3,227.51 L550.8,227.53 L551.3,227.55 L551.8,227.57 L552.3,227.59 L552.8,227.62 L553.3,227.64 L553.8,227.67 L554.3,227.70 L554.8,227.74 L555.3,227.77 L555.8,227.81 L556.3,227.84 L556.8,227.88 L557.3,227.92 L557.8,227.96 L558.3,228.00 L558.8,228.04 L559.3,228.08 L559.8,228.12 L560.3,228.16 L560.8,228.20 L561.3,228.25 L561.8,228.29 L562.3,228.33 L562.8,228.37 L563.3,228.41 L563.8,228.45 L564.3,228.49 L564.8,228.52 L565.3,228.56 L565.8,228.60 L566.3,228.63 L566.8,228.67 L567.3,228.70 L567.8,228.73 L568.3,228.77 L568.8,228.80 L569.3,228.83 L569.8,228.86 L570.3,228.89 L570.8,228.92 L571.3,228.94 L571.8,228.97 L572.3,229.00 L572.8,229.02 L573.3,229.05 L573.8,229.07 L574.3,229.10 L574.8,229.12 L575.3,229.14 L575.8,229.16 L576.3,229.19 L576.8,229.21 L577.3,229.23 L577.8,229.25 L578.3,229.27 L578.8,229.29 L579.3,229.31 L579.8,229.32 L580.3,229.34 L580.8,229.36 L581.3,229.37 L581.8,229.39 L582.3,229.41 L582.8,229.42 L583.3,229.44 L583.8,229.45 L584.3,229.47 L584.8,229.48 L585.3,229.49 L585.8,229.51 L586.3,229.52 L586.8,229.53 L587.3,229.54 L587.8,229.55 L588.3,229.57 L588.8,229.58 L589.3,229.59 L589.8,229.60 L590.3,229.61 L590.8,229.62 L591.3,229.63 L591.8,229.64 L592.3,229.65 L592.8,229.66 L593.3,229.67 L593.8,229.68 L594.3,229.69 L594.8,229.70 L595.3,229.71 L595.8,229.71 L596.3,229.72 L596.8,229.73 L597.3,229.74 L597.8,229.75 L598.3,229.76 L598.8,229.77 L599.3,229.77 L599.8,229.78 L600.3,229.79 L600.8,229.80 L601.3,229.81 L601.8,229.82 L602.3,229.82 L602.8,229.83 L603.3,229.84 L603.8,229.85 L604.3,229.86 L604.8,229.87 L605.3,229.87 L605.8,229.88 L606.3,229.89 L606.8,229.90 L607.3,229.91 L607.8,229.92 L608.3,229.93 L608.8,229.93 L609.3,229.94 L609.8,229.95 L610.3,229.96 L610.8,229.97 L611.3,229.98 L611.8,229.98 L612.3,229.99 L612.8,230.00 L613.3,230.01 L613.8,230.02 L614.3,230.03 L614.8,230.04 L615.3,230.04 L615.8,230.05 L616.3,230.06 L616.8,230.07 L617.3,230.08 L617.8,230.09 L618.3,230.10 L618.8,230.11 L619.3,230.11 L619.8,230.12 L620.3,230.13 L620.8,230.14 L621.3,230.15 L621.8,230.16 L622.3,230.17 L622.8,230.18 L623.3,230.18 L623.8,230.19 L624.3,230.20 L624.8,230.21 L625.3,230.22 L625.8,230.23 L626.3,230.24 L626.8,230.25 L627.3,230.25 L627.8,230.26 L628.3,230.27 L628.8,230.28 L629.3,230.29 L629.8,230.30 L630.3,230.31 L630.8,230.32 L631.3,230.33 L631.8,230.33 L632.3,230.34 L632.8,230.35 L633.3,230.36 L633.8,230.37 L634.3,230.38 L634.8,230.39 L635.3,230.40 L635.8,230.41 L636.3,230.42 L636.8,230.43 L637.3,230.43 L637.8,230.44 L638.3,230.45 L638.8,230.46 L639.3,230.47 L639.8,230.48 L640.3,230.49 L640.8,230.50 L641.3,230.51 L641.8,230.52 L642.3,230.53 L642.8,230.54 L643.3,230.55 L643.8,230.56 L644.3,230.56 L644.8,230.57 L645.3,230.58 L645.8,230.59 L646.3,230.60 L646.8,230.61 L647.3,230.62 L647.8,230.63 L648.3,230.64 L648.8,230.65 L649.3,230.66 L649.8,230.67 L650.3,230.68 L650.8,230.69 L651.3,230.70 L651.8,230.71 L652.3,230.72 L652.8,230.73 L653.3,230.74 L653.8,230.75 L654.3,230.75 L654.8,230.76 L655.3,230.77 L655.8,230.78 L656.3,230.79 L656.8,230.80 L657.3,230.81 L657.8,230.82 L658.3,230.83 L658.8,230.84 L659.3,230.85 L659.8,230.86 L660.3,230.87 L660.8,230.88 L661.3,230.89 L661.8,230.90 L662.3,230.91 L662.8,230.92 L663.3,230.93 L663.8,230.94 L664.3,230.95 L664.8,230.96 L665.3,230.97 L665.8,230.98 L666.3,230.99 L666.8,231.00 L667.3,231.01 L667.8,231.02 L668.3,231.03 L668.8,231.04 L669.3,231.05 L669.8,231.06 L670.3,231.08 L670.8,231.09 L671.3,231.10 L671.8,231.11 L672.3,231.12 L672.8,231.13 L673.3,231.14 L673.8,231.15 L674.3,231.16 L674.8,231.17 L675.3,231.18 L675.8,231.19 L676.3,231.20 L676.8,231.21 L677.3,231.22 L677.8,231.23 L678.3,231.24 L678.8,231.25 L679.3,231.26 L679.8,231.28 L680.3,231.29 L680.8,231.30 L681.3,231.31 L681.8,231.32 L682.3,231.33"/>
<path stroke="#05a67e" d="M388.8,25.71 L389.3,24.82 L389.8,24.07 L390.3,23.46 L390.8,22.97 L391.3,22.59 L391.8,22.31 L392.3,22.11 L392.8,21.97 L393.3,21.89 L393.8,21.85 L394.3,21.84 L394.8,21.84 L395.3,21.86 L395.8,21.90 L396.3,21.98 L396.8,22.11 L397.3,22.30 L397.8,22.56 L398.3,22.90 L398.8,23.33 L399.3,23.86 L399.8,24.51 L400.3,25.28 L400.8,26.17 L401.3,27.17 L401.8,28.29 L402.3,29.50 L402.8,30.82 L403.3,32.22 L403.8,33.71 L404.3,35.29 L404.8,36.93 L405.3,38.65 L405.8,40.43 L406.3,42.27 L406.8,44.17 L407.3,46.11 L407.8,48.09 L408.3,50.11 L408.8,52.16 L409.3,54.23 L409.8,56.32 L410.3,58.43 L410.8,60.55 L411.3,62.67 L411.8,64.80 L412.3,66.92 L412.8,69.05 L413.3,71.18 L413.8,73.32 L414.3,75.45 L414.8,77.58 L415.3,79.71 L415.8,81.84 L416.3,83.96 L416.8,86.09 L417.3,88.20 L417.8,90.32 L418.3,92.43 L418.8,94.53 L419.3,96.63 L419.8,98.72 L420.3,100.80 L420.8,102.87 L421.3,104.94 L421.8,106.99 L422.3,109.03 L422.8,111.07 L423.3,113.09 L423.8,115.10 L424.3,117.09 L424.8,119.07 L425.3,121.04 L425.8,122.99 L426.3,124.93 L426.8,126.85 L427.3,128.76 L427.8,130.64 L428.3,132.51 L428.8,134.36 L429.3,136.19 L429.8,138.00 L430.3,139.79 L430.8,141.56 L431.3,143.32 L431.8,145.05 L432.3,146.76 L432.8,148.46 L433.3,150.13 L433.8,151.78 L434.3,153.42 L434.8,155.03 L435.3,156.62 L435.8,158.19 L436.3,159.74 L436.8,161.27 L437.3,162.77 L437.8,164.26 L438.3,165.72 L438.8,167.16 L439.3,168.58 L439.8,169.98 L440.3,171.35 L440.8,172.71 L441.3,174.03 L441.8,175.34 L442.3,176.62 L442.8,177.88 L443.3,179.12 L443.8,180.33 L444.3,181.52 L444.8,182.69 L445.3,183.83 L445.8,184.95 L446.3,186.05 L446.8,187.12 L447.3,188.18 L447.8,189.21 L448.3,190.22 L448.8,191.21 L449.3,192.17 L449.8,193.12 L450.3,194.05 L450.8,194.95 L451.3,195.84 L451.8,196.71 L452.3,197.56 L452.8,198.38 L453.3,199.20 L453.8,199.99 L454.3,200.76 L454.8,201.52 L455.3,202.25 L455.8,202.98 L456.3,203.68 L456.8,204.37 L457.3,205.04 L457.8,205.69 L458.3,206.33 L458.8,206.95 L459.3,207.56 L459.8,208.15 L460.3,208.72 L460.8,209.29 L461.3,209.83 L461.8,210.37 L462.3,210.89 L462.8,211.39 L463.3,211.89 L463.8,212.36 L464.3,212.83 L464.8,213.28 L465.3,213.73 L465.8,214.15 L466.3,214.57 L466.8,214.97 L467.3,215.37 L467.8,215.75 L468.3,216.12 L468.8,216.48 L469.3,216.82 L469.8,217.16 L470.3,217.49 L470.8,217.80 L471.3,218.11 L471.8,218.41 L472.3,218.69 L472.8,218.97 L473.3,219.24 L473.8,219.50 L474.3,219.75 L474.8,219.99 L475.3,220.23 L475.8,220.45 L476.3,220.67 L476.8,220.88 L477.3,221.09 L477.8,221.28 L478.3,221.47 L478.8,221.65 L479.3,221.83 L479.8,222.00 L480.3,222.16 L480.8,222.32 L481.3,222.47 L481.8,222.62 L482.3,222.76 L482.8,222.89 L483.3,223.02 L483.8,223.15 L484.3,223.27 L484.8,223.39 L485.3,223.50 L485.8,223.61 L486.3,223.72 L486.8,223.82 L487.3,223.92 L487.8,224.02 L488.3,224.12 L488.8,224.21 L489.3,224.30 L489.8,224.39 L490.3,224.47 L490.8,224.56 L491.3,224.64 L491.8,224.72 L492.3,224.80 L492.8,224.88 L493.3,224.96 L493.8,225.04 L494.3,225.12 L494.8,225.19 L495.3,225.27 L495.8,225.34 L496.3,225.42 L496.8,225.49 L497.3,225.56 L497.8,225.64 L498.3,225.71 L498.8,225.78 L499.3,225.85 L499.8,225.91 L500.3,225.98 L500.8,226.05 L501.3,226.11 L501.8,226.18 L502.3,226.24 L502.8,226.31 L503.3,226.37 L503.8,226.43 L504.3,226.49 L504.8,226.56 L505.3,226.62 L505.8,226.67 L506.3,226.73 L506.8,226.79 L507.3,226.85 L507.8,226.90 L508.3,226.96 L508.8,227.02 L509.3,227.07 L509.8,227.12 L510.3,227.18 L510.8,227.23 L511.3,227.28 L511.8,227.33 L512.3,227.38 L512.8,227.43 L513.3,227.48 L513.8,227.53 L514.3,227.58 L514.8,227.62 L515.3,227.67 L515.8,227.71 L516.3,227.76 L516.8,227.80 L517.3,227.85 L517.8,227.89 L518.3,227.93 L518.8,227.98 L519.3,228.02 L519.8,228.06 L520.3,228.10 L520.8,228.14 L521.3,228.18 L521.8,228.21 L522.3,228.25 L522.8,228.29 L523.3,228.33 L523.8,228.36 L524.3,228.40 L524.8,228.43 L525.3,228.47 L525.8,228.50 L526.3,228.54 L526.8,228.57 L527.3,228.60 L527.8,228.63 L528.3,228.66 L528.8,228.70 L529.3,228.73 L529.8,228.76 L530.3,228.78 L530.8,228.81 L531.3,228.84 L531.8,228.87 L532.3,228.90 L532.8,228.92 L533.3,228.95 L533.8,228.98 L534.3,229.00 L534.8,229.03 L535.3,229.05 L535.8,229.08 L536.3,229.10 L536.8,229.12 L537.3,229.15 L537.8,229.17 L538.3,229.19 L538.8,229.21 L539.3,229.24 L539.8,229.26 L540.3,229.28 L540.8,229.30 L541.3,229.32 L541.8,229.34 L542.3,229.36 L542.8,229.37 L543.3,229.39 L543.8,229.41 L544.3,229.43 L544.8,229.45 L545.3,229.46 L545.8,229.48 L546.3,229.50 L546.8,229.51 L547.3,229.53 L547.8,229.54 L548.3,229.56 L548.8,229.57 L549.3,229.59 L549.8,229.60 L550.3,229.61 L550.8,229.63 L551.3,229.64 L551.8,229.65 L552.3,229.67 L552.8,229.68 L553.3,229.69 L553.8,229.70 L554.3,229.71 L554.8,229.73 L555.3,229.74 L555.8,229.75 L556.3,229.76 L556.8,229.77 L557.3,229.78 L557.8,229.79 L558.3,229.80 L558.8,229.81 L559.3,229.82 L559.8,229.83 L560.3,229.84 L560.8,229.84 L561.3,229.85 L561.8,229.86 L562.3,229.87 L562.8,229.88 L563.3,229.89 L563.8,229.89 L564.3,229.90 L564.8,229.91 L565.3,229.92 L565.8,229.92 L566.3,229.93 L566.8,229.94 L567.3,229.94 L567.8,229.95 L568.3,229.96 L568.8,229.96 L569.3,229.97 L569.8,229.98 L570.3,229.98 L570.8,229.99 L571.3,229.99 L571.8,230.00 L572.3,230.01 L572.8,230.01 L573.3,230.02 L573.8,230.02 L574.3,230.03 L574.8,230.03 L575.3,230.04 L575.8,230.04 L576.3,230.05 L576.8,230.05 L577.3,230.06 L577.8,230.06 L578.3,230.07 L578.8,230.08 L579.3,230.08 L579.8,230.09 L580.3,230.09 L580.8,230.10 L581.3,230.10 L581.8,230.11 L582.3,230.11 L582.8,230.12 L583.3,230.12 L583.8,230.13 L584.3,230.13 L584.8,230.14 L585.3,230.14 L585.8,230.15 L586.3,230.16 L586.8,230.16 L587.3,230.17 L587.8,230.17 L588.3,230.18 L588.8,230.18 L589.3,230.19 L589.8,230.19 L590.3,230.20 L590.8,230.21 L591.3,230.21 L591.8,230.22 L592.3,230.22 L592.8,230.23 L593.3,230.23 L593.8,230.24 L594.3,230.25 L594.8,230.25 L595.3,230.26 L595.8,230.26 L596.3,230.27 L596.8,230.28 L597.3,230.28 L597.8,230.29 L598.3,230.29 L598.8,230.30 L599.3,230.31 L599.8,230.31 L600.3,230.32 L600.8,230.32 L601.3,230.33 L601.8,230.34 L602.3,230.34 L602.8,230.35 L603.3,230.35 L603.8,230.36 L604.3,230.37 L604.8,230.37 L605.3,230.38 L605.8,230.39 L606.3,230.39 L606.8,230.40 L607.3,230.40 L607.8,230.41 L608.3,230.42 L608.8,230.42 L609.3,230.43 L609.8,230.43 L610.3,230.44 L610.8,230.45 L611.3,230.45 L611.8,230.46 L612.3,230.47 L612.8,230.47 L613.3,230.48 L613.8,230.48 L614.3,230.49 L614.8,230.50 L615.3,230.50 L615.8,230.51 L616.3,230.51 L616.8,230.52 L617.3,230.53 L617.8,230.53 L618.3,230.54 L618.8,230.54 L619.3,230.55 L619.8,230.56 L620.3,230.56 L620.8,230.57 L621.3,230.57 L621.8,230.58 L622.3,230.59 L622.8,230.59 L623.3,230.60 L623.8,230.60 L624.3,230.61 L624.8,230.62 L625.3,230.62 L625.8,230.63 L626.3,230.63 L626.8,230.64 L627.3,230.64 L627.8,230.65 L628.3,230.66 L628.8,230.66 L629.3,230.67 L629.8,230.67 L630.3,230.68 L630.8,230.68 L631.3,230.69 L631.8,230.70 L632.3,230.70 L632.8,230.71 L633.3,230.71 L633.8,230.72 L634.3,230.72 L634.8,230.73 L635.3,230.73 L635.8,230.74 L636.3,230.74 L636.8,230.75 L637.3,230.75 L637.8,230.76 L638.3,230.76 L638.8,230.77 L639.3,230.77 L639.8,230.78 L640.3,230.78 L640.8,230.79 L641.3,230.79 L641.8,230.80 L642.3,230.80 L642.8,230.81 L643.3,230.81 L643.8,230.82 L644.3,230.82 L644.8,230.83 L645.3,230.83 L645.8,230.84 L646.3,230.84 L646.8,230.85 L647.3,230.85 L647.8,230.85 L648.3,230.86 L648.8,230.86 L649.3,230.87 L649.8,230.87 L650.3,230.88 L650.8,230.88 L651.3,230.88 L651.8,230.89 L652.3,230.89 L652.8,230.89 L653.3,230.90 L653.8,230.90 L654.3,230.91 L654.8,230.91 L655.3,230.91 L655.8,230.92 L656.3,230.92 L656.8,230.92 L657.3,230.93 L657.8,230.93 L658.3,230.93 L658.8,230.94 L659.3,230.94 L659.8,230.94 L660.3,230.95 L660.8,230.95 L661.3,230.95 L661.8,230.95 L662.3,230.96 L662.8,230.96 L663.3,230.96 L663.8,230.96 L664.3,230.97 L664.8,230.97 L665.3,230.97 L665.8,230.97 L666.3,230.98 L666.8,230.98 L667.3,230.98 L667.8,230.98 L668.3,230.98 L668.8,230.99 L669.3,230.99 L669.8,230.99 L670.3,230.99 L670.8,230.99 L671.3,230.99 L671.8,231.00 L672.3,231.00 L672.8,231.00 L673.3,231.00 L673.8,231.00 L674.3,231.00 L674.8,231.00 L675.3,231.00 L675.8,231.00 L676.3,231.01 L676.8,231.01 L677.3,231.01 L677.8,231.01 L678.3,231.01 L678.8,231.01 L679.3,231.01 L679.8,231.01 L680.3,231.01 L680.8,231.01 L681.3,231.01 L681.8,231.01 L682.3,231.01"/>
<path stroke="#1ccb3a" d="M388.8,21.10 L389.3,20.79 L389.8,20.53 L390.3,20.31 L390.8,20.13 L391.3,19.99 L391.8,19.90 L392.3,19.86 L392.8,19.85 L393.3,19.89 L393.8,19.97 L394.3,20.10 L394.8,20.27 L395.3,20.48 L395.8,20.73 L396.3,21.03 L396.8,21.36 L397.3,21.74 L397.8,22.17 L398.3,22.64 L398.8,23.16 L399.3,23.75 L399.8,24.41 L400.3,25.14 L400.8,25.96 L401.3,26.87 L401.8,27.87 L402.3,28.98 L402.8,30.20 L403.3,31.54 L403.8,33.00 L404.3,34.57 L404.8,36.23 L405.3,37.99 L405.8,39.83 L406.3,41.75 L406.8,43.74 L407.3,45.78 L407.8,47.88 L408.3,50.02 L408.8,52.20 L409.3,54.40 L409.8,56.62 L410.3,58.85 L410.8,61.08 L411.3,63.30 L411.8,65.52 L412.3,67.74 L412.8,69.95 L413.3,72.16 L413.8,74.35 L414.3,76.55 L414.8,78.73 L415.3,80.91 L415.8,83.08 L416.3,85.24 L416.8,87.39 L417.3,89.54 L417.8,91.68 L418.3,93.80 L418.8,95.92 L419.3,98.03 L419.8,100.13 L420.3,102.22 L420.8,104.29 L421.3,106.36 L421.8,108.42 L422.3,110.46 L422.8,112.49 L423.3,114.51 L423.8,116.52 L424.3,118.51 L424.8,120.49 L425.3,122.46 L425.8,124.42 L426.3,126.36 L426.8,128.28 L427.3,130.19 L427.8,132.09 L428.3,133.97 L428.8,135.83 L429.3,137.68 L429.8,139.52 L430.3,141.33 L430.8,143.13 L431.3,144.91 L431.8,146.68 L432.3,148.43 L432.8,150.15 L433.3,151.87 L433.8,153.56 L434.3,155.23 L434.8,156.88 L435.3,158.52 L435.8,160.13 L436.3,161.73 L436.8,163.30 L437.3,164.85 L437.8,166.38 L438.3,167.89 L438.8,169.38 L439.3,170.85 L439.8,172.29 L440.3,173.71 L440.8,175.11 L441.3,176.48 L441.8,177.83 L442.3,179.16 L442.8,180.46 L443.3,181.74 L443.8,182.99 L444.3,184.22 L444.8,185.42 L445.3,186.60 L445.8,187.75 L446.3,188.87 L446.8,189.97 L447.3,191.04 L447.8,192.08 L448.3,193.10 L448.8,194.09 L449.3,195.05 L449.8,195.99 L450.3,196.91 L450.8,197.80 L451.3,198.66 L451.8,199.51 L452.3,200.33 L452.8,201.13 L453.3,201.90 L453.8,202.65 L454.3,203.39 L454.8,204.10 L455.3,204.79 L455.8,205.46 L456.3,206.11 L456.8,206.74 L457.3,207.35 L457.8,207.94 L458.3,208.52 L458.8,209.08 L459.3,209.62 L459.8,210.14 L460.3,210.65 L460.8,211.14 L461.3,211.61 L461.8,212.07 L462.3,212.52 L462.8,212.95 L463.3,213.36 L463.8,213.76 L464.3,214.15 L464.8,214.53 L465.3,214.89 L465.8,215.25 L466.3,215.59 L466.8,215.92 L467.3,216.23 L467.8,216.54 L468.3,216.84 L468.8,217.13 L469.3,217.41 L469.8,217.68 L470.3,217.94 L470.8,218.19 L471.3,218.44 L471.8,218.68 L472.3,218.91 L472.8,219.14 L473.3,219.36 L473.8,219.57 L474.3,219.79 L474.8,219.99 L475.3,220.19 L475.8,220.39 L476.3,220.58 L476.8,220.77 L477.3,220.96 L477.8,221.14 L478.3,221.32 L478.8,221.50 L479.3,221.67 L479.8,221.84 L480.3,222.01 L480.8,222.17 L481.3,222.33 L481.8,222.49 L482.3,222.64 L482.8,222.79 L483.3,222.94 L483.8,223.08 L484.3,223.23 L484.8,223.36 L485.3,223.50 L485.8,223.63 L486.3,223.76 L486.8,223.89 L487.3,224.02 L487.8,224.14 L488.3,224.26 L488.8,224.37 L489.3,224.49 L489.8,224.60 L490.3,224.71 L490.8,224.82 L491.3,224.92 L491.8,225.02 L492.3,225.12 L492.8,225.22 L493.3,225.31 L493.8,225.41 L494.3,225.50 L494.8,225.59 L495.3,225.67 L495.8,225.76 L496.3,225.84 L496.8,225.92 L497.3,226.00 L497.8,226.08 L498.3,226.16 L498.8,226.23 L499.3,226.30 L499.8,226.37 L500.3,226.44 L500.8,226.51 L501.3,226.57 L501.8,226.64 L502.3,226.70 L502.8,226.76 L503.3,226.82 L503.8,226.88 L504.3,226.94 L504.8,226.99 L505.3,227.05 L505.8,227.10 L506.3,227.15 L506.8,227.21 L507.3,227.26 L507.8,227.31 L508.3,227.35 L508.8,227.40 L509.3,227.45 L509.8,227.49 L510.3,227.54 L510.8,227.58 L511.3,227.63 L511.8,227.67 L512.3,227.71 L512.8,227.75 L513.3,227.80 L513.8,227.84 L514.3,227.88 L514.8,227.92 L515.3,227.96 L515.8,228.00 L516.3,228.03 L516.8,228.07 L517.3,228.11 L517.8,228.15 L518.3,228.18 L518.8,228.22 L519.3,228.26 L519.8,228.29 L520.3,228.33 L520.8,228.36 L521.3,228.40 L521.8,228.43 L522.3,228.46 L522.8,228.50 L523.3,228.53 L523.8,228.56 L524.3,228.59 L524.8,228.62 L525.3,228.66 L525.8,228.69 L526.3,228.72 L526.8,228.75 L527.3,228.78 L527.8,228.81 L528.3,228.83 L528.8,228.86 L529.3,228.89 L529.8,228.92 L530.3,228.95 L530.8,228.98 L531.3,229.00 L531.8,229.03 L532.3,229.06 L532.8,229.08 L533.3,229.11 L533.8,229.13 L534.3,229.16 L534.8,229.18 L535.3,229.21 L535.8,229.23 L536.3,229.26 L536.8,229.28 L537.3,229.30 L537.8,229.33 L538.3,229.35 L538.8,229.37 L539.3,229.39 L539.8,229.42 L540.3,229.44 L540.8,229.46 L541.3,229.48 L541.8,229.50 L542.3,229.52 L542.8,229.54 L543.3,229.56 L543.8,229.58 L544.3,229.60 L544.8,229.62 L545.3,229.64 L545.8,229.66 L546.3,229.68 L546.8,229.70 L547.3,229.72 L547.8,229.74 L548.3,229.75 L548.8,229.77 L549.3,229.79 L549.8,229.81 L550.3,229.82 L550.8,229.84 L551.3,229.86 L551.8,229.87 L552.3,229.89 L552.8,229.91 L553.3,229.92 L553.8,229.94 L554.3,229.95 L554.8,229.97 L555.3,229.99 L555.8,230.00 L556.3,230.02 L556.8,230.03 L557.3,230.04 L557.8,230.06 L558.3,230.07 L558.8,230.09 L559.3,230.10 L559.8,230.11 L560.3,230.13 L560.8,230.14 L561.3,230.15 L561.8,230.17 L562.3,230.18 L562.8,230.19 L563.3,230.20 L563.8,230.21 L564.3,230.23 L564.8,230.24 L565.3,230.25 L565.8,230.26 L566.3,230.27 L566.8,230.28 L567.3,230.29 L567.8,230.30 L568.3,230.31 L568.8,230.32 L569.3,230.33 L569.8,230.34 L570.3,230.35 L570.8,230.36 L571.3,230.37 L571.8,230.38 L572.3,230.39 L572.8,230.40 L573.3,230.41 L573.8,230.42 L574.3,230.43 L574.8,230.43 L575.3,230.44 L575.8,230.45 L576.3,230.46 L576.8,230.46 L577.3,230.47 L577.8,230.48 L578.3,230.49 L578.8,230.49 L579.3,230.50 L579.8,230.51 L580.3,230.51 L580.8,230.52 L581.3,230.53 L581.8,230.53 L582.3,230.54 L582.8,230.54 L583.3,230.55 L583.8,230.55 L584.3,230.56 L584.8,230.56 L585.3,230.57 L585.8,230.57 L586.3,230.58 L586.8,230.58 L587.3,230.59 L587.8,230.59 L588.3,230.60 L588.8,230.60 L589.3,230.60 L589.8,230.61 L590.3,230.61 L590.8,230.62 L591.3,230.62 L591.8,230.62 L592.3,230.63 L592.8,230.63 L593.3,230.63 L593.8,230.63 L594.3,230.64 L594.8,230.64 L595.3,230.64 L595.8,230.64 L596.3,230.65 L596.8,230.65 L597.3,230.65 L597.8,230.65 L598.3,230.65 L598.8,230.66 L599.3,230.66 L599.8,230.66 L600.3,230.66 L600.8,230.66 L601.3,230.66 L601.8,230.66 L602.3,230.66 L602.8,230.66 L603.3,230.66 L603.8,230.66 L604.3,230.66 L604.8,230.67 L605.3,230.67 L605.8,230.67 L606.3,230.67 L606.8,230.67 L607.3,230.67 L607.8,230.66 L608.3,230.66 L608.8,230.66 L609.3,230.66 L609.8,230.66 L610.3,230.66 L610.8,230.66 L611.3,230.66 L611.8,230.66 L612.3,230.66 L612.8,230.66 L613.3,230.65 L613.8,230.65 L614.3,230.65 L614.8,230.65 L615.3,230.65 L615.8,230.65 L616.3,230.65 L616.8,230.64 L617.3,230.64 L617.8,230.64 L618.3,230.64 L618.8,230.63 L619.3,230.63 L619.8,230.63 L620.3,230.63 L620.8,230.62 L621.3,230.62 L621.8,230.62 L622.3,230.62 L622.8,230.61 L623.3,230.61 L623.8,230.61 L624.3,230.61 L624.8,230.60 L625.3,230.60 L625.8,230.60 L626.3,230.59 L626.8,230.59 L627.3,230.59 L627.8,230.58 L628.3,230.58 L628.8,230.58 L629.3,230.57 L629.8,230.57 L630.3,230.56 L630.8,230.56 L631.3,230.56 L631.8,230.55 L632.3,230.55 L632.8,230.55 L633.3,230.54 L633.8,230.54 L634.3,230.53 L634.8,230.53 L635.3,230.52 L635.8,230.52 L636.3,230.52 L636.8,230.51 L637.3,230.51 L637.8,230.50 L638.3,230.50 L638.8,230.49 L639.3,230.49 L639.8,230.49 L640.3,230.48 L640.8,230.48 L641.3,230.47 L641.8,230.47 L642.3,230.46 L642.8,230.46 L643.3,230.45 L643.8,230.45 L644.3,230.44 L644.8,230.44 L645.3,230.43 L645.8,230.43 L646.3,230.42 L646.8,230.42 L647.3,230.41 L647.8,230.41 L648.3,230.40 L648.8,230.40 L649.3,230.39 L649.8,230.39 L650.3,230.38 L650.8,230.38 L651.3,230.37 L651.8,230.37 L652.3,230.36 L652.8,230.36 L653.3,230.35 L653.8,230.35 L654.3,230.34 L654.8,230.34 L655.3,230.33 L655.8,230.33 L656.3,230.32 L656.8,230.32 L657.3,230.31 L657.8,230.31 L658.3,230.30 L658.8,230.30 L659.3,230.29 L659.8,230.29 L660.3,230.28 L660.8,230.28 L661.3,230.27 L661.8,230.27 L662.3,230.26 L662.8,230.26 L663.3,230.25 L663.8,230.25 L664.3,230.24 L664.8,230.24 L665.3,230.23 L665.8,230.23 L666.3,230.22 L666.8,230.22 L667.3,230.21 L667.8,230.21 L668.3,230.20 L668.8,230.20 L669.3,230.19 L669.8,230.19 L670.3,230.18 L670.8,230.18 L671.3,230.17 L671.8,230.17 L672.3,230.16 L672.8,230.16 L673.3,230.15 L673.8,230.15 L674.3,230.14 L674.8,230.14 L675.3,230.14 L675.8,230.13 L676.3,230.13 L676.8,230.12 L677.3,230.12 L677.8,230.11 L678.3,230.11 L678.8,230.11 L679.3,230.10 L679.8,230.10 L680.3,230.09 L680.8,230.09 L681.3,230.09 L681.8,230.08 L682.3,230.08"/>
<path stroke="#f5c505" d="M388.8,12.06 L389.3,11.80 L389.8,11.62 L390.3,11.51 L390.8,11.48 L391.3,11.51 L391.8,11.61 L392.3,11.79 L392.8,12.03 L393.3,12.34 L393.8,12.72 L394.3,13.16 L394.8,13.67 L395.3,14.25 L395.8,14.89 L396.3,15.59 L396.8,16.36 L397.3,17.18 L397.8,18.07 L398.3,19.02 L398.8,20.03 L399.3,21.09 L399.8,22.22 L400.3,23.40 L400.8,24.64 L401.3,25.93 L401.8,27.28 L402.3,28.68 L402.8,30.13 L403.3,31.64 L403.8,33.21 L404.3,34.82 L404.8,36.49 L405.3,38.21 L405.8,39.98 L406.3,41.81 L406.8,43.68 L407.3,45.61 L407.8,47.59 L408.3,49.62 L408.8,51.70 L409.3,53.83 L409.8,56.00 L410.3,58.20 L410.8,60.44 L411.3,62.70 L411.8,64.99 L412.3,67.32 L412.8,69.68 L413.3,72.07 L413.8,74.50 L414.3,76.95 L414.8,79.40 L415.3,81.86 L415.8,84.32 L416.3,86.75 L416.8,89.16 L417.3,91.53 L417.8,93.85 L418.3,96.12 L418.8,98.33 L419.3,100.46 L419.8,102.51 L420.3,104.51 L420.8,106.46 L421.3,108.39 L421.8,110.30 L422.3,112.21 L422.8,114.14 L423.3,116.09 L423.8,118.08 L424.3,120.08 L424.8,122.11 L425.3,124.15 L425.8,126.20 L426.3,128.25 L426.8,130.31 L427.3,132.37 L427.8,134.42 L428.3,136.45 L428.8,138.48 L429.3,140.48 L429.8,142.46 L430.3,144.42 L430.8,146.34 L431.3,148.22 L431.8,150.07 L432.3,151.88 L432.8,153.66 L433.3,155.40 L433.8,157.11 L434.3,158.78 L434.8,160.43 L435.3,162.04 L435.8,163.62 L436.3,165.17 L436.8,166.70 L437.3,168.19 L437.8,169.66 L438.3,171.11 L438.8,172.53 L439.3,173.92 L439.8,175.29 L440.3,176.64 L440.8,177.97 L441.3,179.28 L441.8,180.56 L442.3,181.83 L442.8,183.08 L443.3,184.31 L443.8,185.53 L444.3,186.72 L444.8,187.90 L445.3,189.06 L445.8,190.21 L446.3,191.34 L446.8,192.45 L447.3,193.55 L447.8,194.62 L448.3,195.67 L448.8,196.70 L449.3,197.71 L449.8,198.69 L450.3,199.64 L450.8,200.56 L451.3,201.46 L451.8,202.32 L452.3,203.16 L452.8,203.97 L453.3,204.75 L453.8,205.50 L454.3,206.23 L454.8,206.93 L455.3,207.60 L455.8,208.25 L456.3,208.88 L456.8,209.48 L457.3,210.06 L457.8,210.62 L458.3,211.16 L458.8,211.67 L459.3,212.17 L459.8,212.64 L460.3,213.10 L460.8,213.54 L461.3,213.96 L461.8,214.36 L462.3,214.75 L462.8,215.12 L463.3,215.47 L463.8,215.81 L464.3,216.13 L464.8,216.45 L465.3,216.74 L465.8,217.03 L466.3,217.30 L466.8,217.57 L467.3,217.82 L467.8,218.06 L468.3,218.29 L468.8,218.52 L469.3,218.73 L469.8,218.94 L470.3,219.14 L470.8,219.34 L471.3,219.53 L471.8,219.71 L472.3,219.89 L472.8,220.07 L473.3,220.24 L473.8,220.41 L474.3,220.58 L474.8,220.74 L475.3,220.90 L475.8,221.06 L476.3,221.21 L476.8,221.37 L477.3,221.52 L477.8,221.66 L478.3,221.81 L478.8,221.95 L479.3,222.09 L479.8,222.22 L480.3,222.36 L480.8,222.49 L481.3,222.62 L481.8,222.75 L482.3,222.87 L482.8,222.99 L483.3,223.11 L483.8,223.23 L484.3,223.35 L484.8,223.46 L485.3,223.57 L485.8,223.68 L486.3,223.79 L486.8,223.90 L487.3,224.00 L487.8,224.10 L488.3,224.21 L488.8,224.30 L489.3,224.40 L489.8,224.50 L490.3,224.59 L490.8,224.68 L491.3,224.77 L491.8,224.86 L492.3,224.95 L492.8,225.04 L493.3,225.12 L493.8,225.21 L494.3,225.29 L494.8,225.37 L495.3,225.45 L495.8,225.53 L496.3,225.61 L496.8,225.68 L497.3,225.76 L497.8,225.83 L498.3,225.91 L498.8,225.98 L499.3,226.05 L499.8,226.12 L500.3,226.19 L500.8,226.26 L501.3,226.33 L501.8,226.40 L502.3,226.47 L502.8,226.54 L503.3,226.60 L503.8,226.67 L504.3,226.73 L504.8,226.80 L505.3,226.86 L505.8,226.92 L506.3,226.98 L506.8,227.04 L507.3,227.10 L507.8,227.16 L508.3,227.22 L508.8,227.28 L509.3,227.34 L509.8,227.39 L510.3,227.45 L510.8,227.51 L511.3,227.56 L511.8,227.61 L512.3,227.67 L512.8,227.72 L513.3,227.77 L513.8,227.82 L514.3,227.87 L514.8,227.92 L515.3,227.97 L515.8,228.02 L516.3,228.07 L516.8,228.12 L517.3,228.16 L517.8,228.21 L518.3,228.25 L518.8,228.30 L519.3,228.34 L519.8,228.39 L520.3,228.43 L520.8,228.47 L521.3,228.51 L521.8,228.55 L522.3,228.60 L522.8,228.64 L523.3,228.67 L523.8,228.71 L524.3,228.75 L524.8,228.79 L525.3,228.83 L525.8,228.86 L526.3,228.90 L526.8,228.93 L527.3,228.97 L527.8,229.00 L528.3,229.03 L528.8,229.07 L529.3,229.10 L529.8,229.13 L530.3,229.16 L530.8,229.19 L531.3,229.22 L531.8,229.25 L532.3,229.28 L532.8,229.31 L533.3,229.34 L533.8,229.37 L534.3,229.39 L534.8,229.42 L535.3,229.45 L535.8,229.47 L536.3,229.50 L536.8,229.52 L537.3,229.54 L537.8,229.57 L538.3,229.59 L538.8,229.61 L539.3,229.63 L539.8,229.66 L540.3,229.68 L540.8,229.70 L541.3,229.72 L541.8,229.74 L542.3,229.76 L542.8,229.77 L543.3,229.79 L543.8,229.81 L544.3,229.83 L544.8,229.84 L545.3,229.86 L545.8,229.88 L546.3,229.89 L546.8,229.91 L547.3,229.92 L547.8,229.94 L548.3,229.95 L548.8,229.96 L549.3,229.98 L549.8,229.99 L550.3,230.00 L550.8,230.01 L551.3,230.02 L551.8,230.03 L552.3,230.04 L552.8,230.06 L553.3,230.06 L553.8,230.07 L554.3,230.08 L554.8,230.09 L555.3,230.10 L555.8,230.11 L556.3,230.12 L556.8,230.12 L557.3,230.13 L557.8,230.14 L558.3,230.14 L558.8,230.15 L559.3,230.15 L559.8,230.16 L560.3,230.16 L560.8,230.17 L561.3,230.17 L561.8,230.18 L562.3,230.18 L562.8,230.18 L563.3,230.18 L563.8,230.19 L564.3,230.19 L564.8,230.19 L565.3,230.19 L565.8,230.20 L566.3,230.20 L566.8,230.20 L567.3,230.20 L567.8,230.20 L568.3,230.20 L568.8,230.20 L569.3,230.20 L569.8,230.20 L570.3,230.20 L570.8,230.20 L571.3,230.20 L571.8,230.20 L572.3,230.20 L572.8,230.19 L573.3,230.19 L573.8,230.19 L574.3,230.19 L574.8,230.19 L575.3,230.19 L575.8,230.18 L576.3,230.18 L576.8,230.18 L577.3,230.18 L577.8,230.17 L578.3,230.17 L578.8,230.17 L579.3,230.16 L579.8,230.16 L580.3,230.16 L580.8,230.15 L581.3,230.15 L581.8,230.15 L582.3,230.14 L582.8,230.14 L583.3,230.14 L583.8,230.13 L584.3,230.13 L584.8,230.13 L585.3,230.12 L585.8,230.12 L586.3,230.12 L586.8,230.11 L587.3,230.11 L587.8,230.11 L588.3,230.10 L588.8,230.10 L589.3,230.09 L589.8,230.09 L590.3,230.09 L590.8,230.08 L591.3,230.08 L591.8,230.08 L592.3,230.07 L592.8,230.07 L593.3,230.07 L593.8,230.07 L594.3,230.06 L594.8,230.06 L595.3,230.06 L595.8,230.05 L596.3,230.05 L596.8,230.05 L597.3,230.05 L597.8,230.05 L598.3,230.04 L598.8,230.04 L599.3,230.04 L599.8,230.04 L600.3,230.04 L600.8,230.04 L601.3,230.04 L601.8,230.04 L602.3,230.04 L602.8,230.04 L603.3,230.04 L603.8,230.04 L604.3,230.04 L604.8,230.04 L605.3,230.04 L605.8,230.04 L606.3,230.04 L606.8,230.04 L607.3,230.04 L607.8,230.05 L608.3,230.05 L608.8,230.05 L609.3,230.05 L609.8,230.06 L610.3,230.06 L610.8,230.06 L611.3,230.07 L611.8,230.07 L612.3,230.08 L612.8,230.08 L613.3,230.09 L613.8,230.09 L614.3,230.10 L614.8,230.11 L615.3,230.11 L615.8,230.12 L616.3,230.13 L616.8,230.14 L617.3,230.14 L617.8,230.15 L618.3,230.16 L618.8,230.17 L619.3,230.18 L619.8,230.19 L620.3,230.20 L620.8,230.21 L621.3,230.22 L621.8,230.24 L622.3,230.25 L622.8,230.26 L623.3,230.27 L623.8,230.29 L624.3,230.30 L624.8,230.32 L625.3,230.33 L625.8,230.35 L626.3,230.36 L626.8,230.38 L627.3,230.40 L627.8,230.42 L628.3,230.43 L628.8,230.45 L629.3,230.47 L629.8,230.49 L630.3,230.51 L630.8,230.53 L631.3,230.55 L631.8,230.57 L632.3,230.59 L632.8,230.61 L633.3,230.63 L633.8,230.65 L634.3,230.67 L634.8,230.70 L635.3,230.72 L635.8,230.74 L636.3,230.76 L636.8,230.79 L637.3,230.81 L637.8,230.83 L638.3,230.86 L638.8,230.88 L639.3,230.90 L639.8,230.93 L640.3,230.95 L640.8,230.97 L641.3,231.00 L641.8,231.02 L642.3,231.05 L642.8,231.07 L643.3,231.09 L643.8,231.12 L644.3,231.14 L644.8,231.17 L645.3,231.19 L645.8,231.21 L646.3,231.24 L646.8,231.26 L647.3,231.29 L647.8,231.31 L648.3,231.33 L648.8,231.36 L649.3,231.38 L649.8,231.40 L650.3,231.43 L650.8,231.45 L651.3,231.47 L651.8,231.50 L652.3,231.52 L652.8,231.54 L653.3,231.56 L653.8,231.58 L654.3,231.60 L654.8,231.63 L655.3,231.65 L655.8,231.67 L656.3,231.69 L656.8,231.71 L657.3,231.73 L657.8,231.75 L658.3,231.76 L658.8,231.78 L659.3,231.80 L659.8,231.82 L660.3,231.83 L660.8,231.85 L661.3,231.87 L661.8,231.88 L662.3,231.90 L662.8,231.91 L663.3,231.93 L663.8,231.94 L664.3,231.96 L664.8,231.97 L665.3,231.98 L665.8,231.99 L666.3,232.00 L666.8,232.01 L667.3,232.02 L667.8,232.03 L668.3,232.04 L668.8,232.05 L669.3,232.06 L669.8,232.06 L670.3,232.07 L670.8,232.08 L671.3,232.08 L671.8,232.08 L672.3,232.09 L672.8,232.09 L673.3,232.09 L673.8,232.09 L674.3,232.09 L674.8,232.09 L675.3,232.09 L675.8,232.09 L676.3,232.09 L676.8,232.08 L677.3,232.08 L677.8,232.07 L678.3,232.07 L678.8,232.06 L679.3,232.05 L679.8,232.04 L680.3,232.03 L680.8,232.02 L681.3,232.01 L681.8,231.99 L682.3,231.98"/>
</g>
<g stroke="#000" stroke-width="1" fill="none">
<rect x="45.0" y="0.5" width="293.8" height="243.45"/>
<line x1="45.00" y1="243.95" x2="45.00" y2="246.75"/>
<line x1="93.97" y1="243.95" x2="93.97" y2="246.75"/>
<line x1="142.93" y1="243.95" x2="142.93" y2="246.75"/>
<line x1="191.90" y1="243.95" x2="191.90" y2="246.75"/>
<line x1="240.87" y1="243.95" x2="240.87" y2="246.75"/>
<line x1="289.83" y1="243.95" x2="289.83" y2="246.75"/>
<line x1="338.80" y1="243.95" x2="338.80" y2="246.75"/>
<line x1="45.0" y1="233.40" x2="42.7" y2="233.40"/>
<line x1="45.0" y1="189.77" x2="42.7" y2="189.77"/>
<line x1="45.0" y1="146.14" x2="42.7" y2="146.14"/>
<line x1="45.0" y1="102.51" x2="42.7" y2="102.51"/>
<line x1="45.0" y1="58.88" x2="42.7" y2="58.88"/>
<line x1="45.0" y1="15.25" x2="42.7" y2="15.25"/>
</g>
<g stroke="#000" stroke-width="1" fill="none">
<rect x="388.8" y="0.5" width="293.90000000000003" height="243.45"/>
<line x1="388.80" y1="243.95" x2="388.80" y2="246.75"/>
<line x1="437.78" y1="243.95" x2="437.78" y2="246.75"/>
<line x1="486.77" y1="243.95" x2="486.77" y2="246.75"/>
<line x1="535.75" y1="243.95" x2="535.75" y2="246.75"/>
<line x1="584.73" y1="243.95" x2="584.73" y2="246.75"/>
<line x1="633.72" y1="243.95" x2="633.72" y2="246.75"/>
<line x1="682.70" y1="243.95" x2="682.70" y2="246.75"/>
<line x1="388.8" y1="232.90" x2="386.5" y2="232.90"/>
<line x1="388.8" y1="192.98" x2="386.5" y2="192.98"/>
<line x1="388.8" y1="153.06" x2="386.5" y2="153.06"/>
<line x1="388.8" y1="113.14" x2="386.5" y2="113.14"/>
<line x1="388.8" y1="73.22" x2="386.5" y2="73.22"/>
<line x1="388.8" y1="33.30" x2="386.5" y2="33.30"/>
</g>
<g font-size="14.1">
<text x="45.00" y="261" text-anchor="middle">0</text>
<text x="93.97" y="261" text-anchor="middle">1</text>
<text x="142.93" y="261" text-anchor="middle">2</text>
<text x="191.90" y="261" text-anchor="middle">3</text>
<text x="240.87" y="261" text-anchor="middle">4</text>
<text x="289.83" y="261" text-anchor="middle">5</text>
<text x="338.80" y="261" text-anchor="middle">6</text>
<text x="388.20" y="261" text-anchor="middle">0</text>
<text x="437.18" y="261" text-anchor="middle">1</text>
<text x="486.17" y="261" text-anchor="middle">2</text>
<text x="535.15" y="261" text-anchor="middle">3</text>
<text x="584.13" y="261" text-anchor="middle">4</text>
<text x="633.12" y="261" text-anchor="middle">5</text>
<text x="682.10" y="261" text-anchor="middle">6</text>
<text x="39.9" y="239" text-anchor="end">0.0</text>
<text x="39.9" y="194" text-anchor="end">0.1</text>
<text x="39.9" y="150" text-anchor="end">0.2</text>
<text x="39.9" y="107" text-anchor="end">0.3</text>
<text x="39.9" y="62" text-anchor="end">0.4</text>
<text x="39.9" y="19" text-anchor="end">0.5</text>
<text x="384.1" y="239" text-anchor="end">0.0</text>
<text x="384.1" y="197" text-anchor="end">0.2</text>
<text x="384.1" y="158" text-anchor="end">0.4</text>
<text x="384.1" y="118" text-anchor="end">0.6</text>
<text x="384.1" y="78" text-anchor="end">0.8</text>
<text x="384.1" y="37" text-anchor="end">1.0</text>
</g>
<text font-size="15.5" transform="translate(11.4,122.3) rotate(-90)" text-anchor="middle">PDF</text>
<text font-size="15.6" x="181.00" y="279.6">F<tspan font-size="10.6" dy="-0.6" dx="-0.3" letter-spacing="-0.25">rim</tspan></text>
<text font-size="15.6" x="524.80" y="279.6">F<tspan font-size="10.6" dy="-0.6" dx="-0.3" letter-spacing="-0.25">rim</tspan></text>
<g text-anchor="end">
<text font-size="18.8" x="330.2" y="22.4">(a)</text>
<text font-size="15.2" letter-spacing="0.25" x="329.8" y="41.2">Droplet concentration</text>
<text font-size="15.2" letter-spacing="0.25" x="329.8" y="60.3">remain unchanged</text>
<text font-size="18.8" x="672.0" y="22.9">(b)</text>
<text font-size="15.2" letter-spacing="0.25" x="672.2" y="41.2">Droplet concentration</text>
<text font-size="15.2" letter-spacing="0.25" x="672.2" y="60.3">decreases with time</text>
</g>
<g stroke-width="2.7" fill="none">
<line x1="258" y1="82.30" x2="283.3" y2="82.30" stroke="#440154"/>
<line x1="258" y1="98.22" x2="283.3" y2="98.22" stroke="#3b3b88"/>
<line x1="258" y1="114.14" x2="283.3" y2="114.14" stroke="#07788f"/>
<line x1="258" y1="130.06" x2="283.3" y2="130.06" stroke="#05a67e"/>
<line x1="258" y1="145.98" x2="283.3" y2="145.98" stroke="#1ccb3a"/>
<line x1="258" y1="161.90" x2="283.3" y2="161.90" stroke="#f5c505"/>
</g><g font-size="14.1">
<text x="291.0" y="86.40">10s</text>
<text x="291.0" y="102.32">20s</text>
<text x="291.0" y="118.24">50s</text>
<text x="291.0" y="134.16">100s</text>
<text x="291.0" y="150.08">200s</text>
<text x="291.0" y="166.00">500s</text>
</g>
</svg>
</body></html>
